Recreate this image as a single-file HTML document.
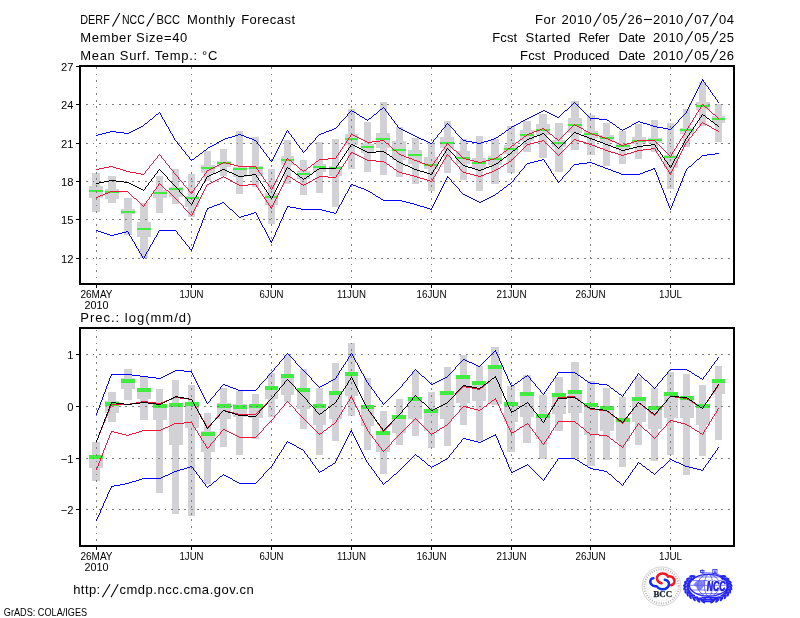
<!DOCTYPE html>
<html><head><meta charset="utf-8"><title>DERF/NCC/BCC Monthly Forecast</title>
<style>
html,body{margin:0;padding:0;background:#fff;}
body{width:800px;height:618px;overflow:hidden;font-family:"Liberation Sans",sans-serif;}
svg{display:block;will-change:transform;}
</style></head><body>
<svg width="800" height="618" viewBox="0 0 800 618" shape-rendering="crispEdges" font-family="'Liberation Sans', sans-serif" fill="#000">
<rect width="800" height="618" fill="#fff"/>
<g fill="#d2d2d6">
<rect x="92" y="173" width="8" height="39"/>
<rect x="89" y="186" width="14" height="12"/>
<rect x="108" y="176" width="8" height="27"/>
<rect x="105" y="189" width="14" height="10"/>
<rect x="124" y="198" width="8" height="37"/>
<rect x="121" y="209" width="14" height="5"/>
<rect x="140" y="203" width="8" height="55"/>
<rect x="137" y="222" width="14" height="15"/>
<rect x="156" y="176" width="7" height="37"/>
<rect x="153" y="190" width="14" height="8"/>
<rect x="172" y="169" width="7" height="35"/>
<rect x="169" y="187" width="14" height="10"/>
<rect x="188" y="174" width="7" height="43"/>
<rect x="185" y="196" width="14" height="11"/>
<rect x="204" y="151" width="7" height="30"/>
<rect x="201" y="165" width="14" height="8"/>
<rect x="220" y="149" width="7" height="27"/>
<rect x="217" y="161" width="14" height="6"/>
<rect x="236" y="131" width="7" height="63"/>
<rect x="233" y="167" width="14" height="10"/>
<rect x="252" y="137" width="7" height="50"/>
<rect x="249" y="166" width="14" height="10"/>
<rect x="268" y="169" width="7" height="55"/>
<rect x="265" y="193" width="13" height="12"/>
<rect x="284" y="140" width="7" height="44"/>
<rect x="281" y="156" width="13" height="9"/>
<rect x="300" y="160" width="7" height="35"/>
<rect x="297" y="171" width="13" height="8"/>
<rect x="316" y="142" width="7" height="51"/>
<rect x="313" y="164" width="13" height="8"/>
<rect x="332" y="139" width="7" height="68"/>
<rect x="329" y="166" width="13" height="10"/>
<rect x="348" y="109" width="7" height="60"/>
<rect x="345" y="134" width="13" height="11"/>
<rect x="364" y="122" width="7" height="50"/>
<rect x="361" y="144" width="13" height="9"/>
<rect x="380" y="102" width="7" height="73"/>
<rect x="376" y="133" width="14" height="15"/>
<rect x="396" y="127" width="7" height="50"/>
<rect x="392" y="141" width="14" height="19"/>
<rect x="412" y="138" width="7" height="46"/>
<rect x="408" y="150" width="14" height="14"/>
<rect x="428" y="143" width="7" height="48"/>
<rect x="424" y="157" width="14" height="12"/>
<rect x="444" y="121" width="7" height="52"/>
<rect x="440" y="137" width="14" height="11"/>
<rect x="460" y="139" width="7" height="41"/>
<rect x="456" y="151" width="14" height="13"/>
<rect x="476" y="136" width="7" height="55"/>
<rect x="472" y="158" width="14" height="10"/>
<rect x="491" y="139" width="8" height="45"/>
<rect x="488" y="156" width="14" height="9"/>
<rect x="507" y="126" width="8" height="47"/>
<rect x="504" y="145" width="14" height="9"/>
<rect x="523" y="121" width="8" height="31"/>
<rect x="520" y="130" width="14" height="11"/>
<rect x="539" y="114" width="8" height="44"/>
<rect x="536" y="124" width="14" height="11"/>
<rect x="555" y="123" width="8" height="49"/>
<rect x="552" y="140" width="14" height="7"/>
<rect x="571" y="101" width="8" height="49"/>
<rect x="568" y="118" width="14" height="15"/>
<rect x="587" y="115" width="8" height="40"/>
<rect x="584" y="131" width="14" height="7"/>
<rect x="603" y="123" width="7" height="43"/>
<rect x="600" y="135" width="14" height="7"/>
<rect x="619" y="131" width="7" height="33"/>
<rect x="616" y="143" width="14" height="7"/>
<rect x="635" y="124" width="7" height="35"/>
<rect x="632" y="137" width="14" height="7"/>
<rect x="651" y="120" width="7" height="32"/>
<rect x="648" y="138" width="14" height="5"/>
<rect x="667" y="123" width="7" height="66"/>
<rect x="664" y="155" width="14" height="13"/>
<rect x="683" y="109" width="7" height="38"/>
<rect x="680" y="128" width="14" height="6"/>
<rect x="699" y="82" width="7" height="44"/>
<rect x="696" y="102" width="14" height="8"/>
<rect x="715" y="104" width="7" height="38"/>
<rect x="712" y="116" width="13" height="7"/>
</g>
<g fill="#40ec40">
<rect x="89" y="190" width="14" height="2"/>
<rect x="105" y="191" width="14" height="2"/>
<rect x="121" y="211" width="14" height="2"/>
<rect x="137" y="228" width="14" height="2"/>
<rect x="153" y="192" width="14" height="2"/>
<rect x="169" y="188" width="14" height="2"/>
<rect x="185" y="197" width="14" height="2"/>
<rect x="201" y="167" width="14" height="2"/>
<rect x="217" y="162" width="14" height="2"/>
<rect x="233" y="168" width="14" height="2"/>
<rect x="249" y="167" width="14" height="2"/>
<rect x="265" y="196" width="13" height="2"/>
<rect x="281" y="159" width="13" height="2"/>
<rect x="297" y="173" width="13" height="2"/>
<rect x="313" y="166" width="13" height="2"/>
<rect x="329" y="167" width="13" height="2"/>
<rect x="345" y="138" width="13" height="2"/>
<rect x="361" y="146" width="13" height="2"/>
<rect x="376" y="138" width="14" height="2"/>
<rect x="392" y="149" width="14" height="2"/>
<rect x="408" y="154" width="14" height="2"/>
<rect x="424" y="164" width="14" height="2"/>
<rect x="440" y="142" width="14" height="2"/>
<rect x="456" y="157" width="14" height="2"/>
<rect x="472" y="162" width="14" height="2"/>
<rect x="488" y="158" width="14" height="2"/>
<rect x="504" y="148" width="14" height="2"/>
<rect x="520" y="134" width="14" height="2"/>
<rect x="536" y="129" width="14" height="2"/>
<rect x="552" y="142" width="14" height="2"/>
<rect x="568" y="124" width="14" height="2"/>
<rect x="584" y="133" width="14" height="2"/>
<rect x="600" y="137" width="14" height="2"/>
<rect x="616" y="145" width="14" height="2"/>
<rect x="632" y="140" width="14" height="2"/>
<rect x="648" y="139" width="14" height="2"/>
<rect x="664" y="156" width="14" height="2"/>
<rect x="680" y="129" width="14" height="2"/>
<rect x="696" y="105" width="14" height="2"/>
<rect x="712" y="118" width="13" height="2"/>
</g>
<g stroke="#7f7f7f" stroke-width="1" stroke-dasharray="1.8 4.75" fill="none">
<line x1="96.5" y1="67" x2="96.5" y2="283"/>
<line x1="191.5" y1="67" x2="191.5" y2="283"/>
<line x1="271.5" y1="67" x2="271.5" y2="283"/>
<line x1="351.5" y1="67" x2="351.5" y2="283"/>
<line x1="431.5" y1="67" x2="431.5" y2="283"/>
<line x1="511.5" y1="67" x2="511.5" y2="283"/>
<line x1="590.5" y1="67" x2="590.5" y2="283"/>
<line x1="670.5" y1="67" x2="670.5" y2="283"/>
<line x1="86" y1="66.5" x2="733" y2="66.5"/>
<line x1="86" y1="104.5" x2="733" y2="104.5"/>
<line x1="86" y1="143.5" x2="733" y2="143.5"/>
<line x1="86" y1="181.5" x2="733" y2="181.5"/>
<line x1="86" y1="219.5" x2="733" y2="219.5"/>
<line x1="86" y1="258.5" x2="733" y2="258.5"/>
</g>
<path d="M96 135.5h2M98 134.5h4M102 133.5h4M106 132.5h4M110 131.5h2M112 131.5h4M116 132.5h8M124 133.5h4M128 133.5h1M129 132.5h2M131 131.5h2M133 130.5h2M135 129.5h2M137 128.5h2M139 127.5h2M141 126.5h2M143 125.5h1M144 124.5h1M145 123.5h2M147 122.5h1M148 121.5h1M149 120.5h1M150 119.5h2M152 118.5h1M153 117.5h1M154 116.5h1M155 115.5h1M156 114.5h2M158 113.5h1M159 112.5h1M160.5 113v2M161.5 115v2M162.5 117v2M163.5 119v1M164.5 120v2M165.5 122v2M166.5 124v2M167.5 126v1M168.5 127v2M169.5 129v2M170.5 131v2M171.5 133v1M172.5 134v2M173.5 136v2M174.5 138v2M175.5 140v1M176.5 141v1M177.5 142v2M178.5 144v1M179.5 145v1M180.5 146v1M181.5 147v2M182.5 149v1M183.5 150v1M184.5 151v1M185.5 152v2M186.5 154v1M187.5 155v1M188.5 156v1M189.5 157v2M190.5 159v1M191.5 160v1M192 159.5h2M194 158.5h1M195 157.5h1M196 156.5h2M198 155.5h1M199 154.5h1M200 153.5h2M202 152.5h1M203 151.5h1M204 150.5h2M206 149.5h1M207 148.5h1M208 147.5h2M210 146.5h2M212 145.5h2M214 144.5h2M216 143.5h1M217 142.5h2M219 141.5h2M221 140.5h2M223 139.5h1M224 139.5h1M225 138.5h3M228 137.5h4M232 136.5h3M235 135.5h3M238 134.5h2M240 134.5h1M241 135.5h3M244 136.5h2M246 137.5h3M249 138.5h3M252 139.5h2M254 140.5h2M256.5 141v1M257.5 142v2M258.5 144v1M259.5 145v1M260.5 146v2M261.5 148v1M262.5 149v1M263.5 150v2M264.5 152v1M265.5 153v1M266.5 154v2M267.5 156v1M268.5 157v1M269.5 158v2M270.5 160v1M271.5 161v1M272.5 159v2M273.5 157v2M274.5 155v2M275.5 153v2M276.5 151v2M277.5 149v2M278.5 147v2M279.5 145v2M280.5 143v2M281.5 141v2M282.5 139v2M283.5 137v2M284.5 135v2M285.5 133v2M286.5 131v2M287.5 130v1M288.5 131v2M289.5 133v1M290.5 134v1M291.5 135v2M292.5 137v1M293.5 138v1M294.5 139v2M295.5 141v1M296.5 142v2M297.5 144v1M298.5 145v1M299.5 146v2M300.5 148v1M301.5 149v1M302.5 150v2M303.5 152v1M304.5 151v1M305.5 150v1M306.5 149v1M307.5 147v2M308.5 146v1M309.5 145v1M310.5 144v1M311.5 143v1M312.5 142v1M313.5 141v1M314.5 140v1M315.5 138v2M316.5 137v1M317.5 136v1M318.5 135v1M319.5 134v1M320 134.5h1M321 133.5h3M324 132.5h2M326 131.5h3M329 130.5h3M332 129.5h2M334 128.5h2M336.5 127v1M337.5 126v1M338.5 125v1M339.5 123v2M340.5 122v1M341.5 121v1M342.5 120v1M343.5 119v1M344.5 118v1M345.5 117v1M346.5 116v1M347.5 114v2M348.5 113v1M349.5 112v1M350.5 111v1M351.5 110v1M352 111.5h2M354 112.5h2M356 113.5h1M357 114.5h2M359 115.5h1M360 116.5h2M362 117.5h2M364 118.5h1M365 119.5h2M367 120.5h1M368 119.5h1M369 118.5h2M371 117.5h1M372 116.5h1M373 115.5h1M374 114.5h2M376 113.5h1M377 112.5h1M378 111.5h1M379 110.5h1M380 109.5h2M382 108.5h1M383 107.5h1M384.5 108v1M385.5 109v2M386.5 111v1M387.5 112v1M388.5 113v2M389.5 115v1M390.5 116v1M391.5 117v2M392.5 119v1M393.5 120v1M394.5 121v2M395.5 123v1M396.5 124v1M397.5 125v2M398.5 127v1M399.5 128v1M400 128.5h1M401 129.5h2M403 130.5h2M405 131.5h2M407 132.5h2M409 133.5h2M411 134.5h2M413 135.5h2M415 136.5h1M416 136.5h1M417 137.5h2M419 138.5h2M421 139.5h3M424 140.5h2M426 141.5h2M428 142.5h2M430 143.5h2M432.5 142v1M433.5 140v2M434.5 139v1M435.5 138v1M436.5 137v1M437.5 135v2M438.5 134v1M439.5 133v1M440.5 132v1M441.5 130v2M442.5 129v1M443.5 128v1M444.5 127v1M445.5 125v2M446.5 124v1M447.5 123v1M448.5 124v1M449.5 125v1M450.5 126v1M451.5 127v1M452.5 128v1M453.5 129v1M454.5 130v1M455.5 131v2M456.5 133v1M457.5 134v1M458.5 135v1M459.5 136v1M460.5 137v1M461.5 138v1M462.5 139v1M463.5 140v1M464 140.5h2M466 141.5h6M472 142.5h5M477 143.5h3M480 143.5h1M481 142.5h3M484 141.5h4M488 140.5h3M491 139.5h3M494 138.5h2M496 137.5h2M498 136.5h1M499 135.5h2M501 134.5h1M502 133.5h2M504 132.5h1M505 131.5h1M506 130.5h2M508 129.5h1M509 128.5h2M511 127.5h1M512 126.5h2M514 125.5h2M516 124.5h2M518 123.5h2M520 122.5h1M521 121.5h2M523 120.5h2M525 119.5h2M527 118.5h1M528 118.5h1M529 117.5h2M531 116.5h2M533 115.5h2M535 114.5h2M537 113.5h2M539 112.5h2M541 111.5h2M543 110.5h1M544 110.5h1M545 111.5h2M547 112.5h2M549 113.5h2M551 114.5h2M553 115.5h2M555 116.5h2M557 117.5h2M559 116.5h1M560 115.5h1M561 114.5h1M562 113.5h1M563 112.5h1M564 111.5h1M565 110.5h2M567 109.5h1M568 108.5h1M569 107.5h1M570 106.5h1M571 105.5h1M572 104.5h1M573 103.5h1M574 102.5h1M575 103.5h1M576 104.5h1M577 105.5h1M578 106.5h1M579 107.5h1M580 108.5h1M581 109.5h1M582 110.5h1M583 111.5h1M584 112.5h1M585 113.5h1M586 114.5h1M587 115.5h1M588 116.5h1M589 117.5h1M590 118.5h1M591 118.5h8M599 119.5h8M607 120.5h2M609 121.5h1M610 122.5h2M612 123.5h1M613 124.5h2M615 125.5h1M616 126.5h1M617 127.5h2M619 128.5h1M620 129.5h2M622 130.5h1M623 129.5h2M625 128.5h2M627 127.5h2M629 126.5h2M631 125.5h1M632 124.5h2M634 123.5h2M636 122.5h2M638 121.5h1M639 121.5h1M640 122.5h3M643 123.5h4M647 124.5h3M650 125.5h3M653 126.5h2M655 126.5h2M657 127.5h6M663 128.5h5M668 129.5h3M671.5 128v1M672.5 127v1M673.5 126v1M674.5 125v1M675.5 124v1M676.5 123v1M677.5 122v1M678.5 120v2M679.5 119v1M680.5 118v1M681.5 117v1M682.5 116v1M683.5 115v1M684.5 114v1M685.5 113v1M686.5 112v1M686.5 111v1M687.5 109v2M688.5 107v2M689.5 105v2M690.5 103v2M691.5 101v2M692.5 99v2M693.5 97v2M694.5 95v2M695.5 93v2M696.5 91v2M697.5 89v2M698.5 87v2M699.5 85v2M700.5 83v2M701.5 81v2M702.5 79v2M703.5 80v2M704.5 82v1M705.5 83v2M706.5 85v1M707.5 86v1M708.5 87v2M709.5 89v1M710.5 90v2M711.5 92v1M712.5 93v2M713.5 95v1M714.5 96v1M715.5 97v2M716.5 99v1M717.5 100v2M718.5 102v1" fill="none" stroke="#0000ff" stroke-width="1"/>
<path d="M96 230.5h2M98 231.5h3M101 232.5h3M104 233.5h3M107 234.5h3M110 235.5h2M112 235.5h2M114 234.5h4M118 233.5h4M122 232.5h4M126 231.5h2M128.5 232v2M129.5 234v2M130.5 236v1M131.5 237v2M132.5 239v2M133.5 241v1M134.5 242v2M135.5 244v2M136.5 246v2M137.5 248v1M138.5 249v2M139.5 251v2M140.5 253v1M141.5 254v2M142.5 256v2M143.5 258v1M144.5 256v2M145.5 254v2M146.5 252v2M147.5 251v1M148.5 249v2M149.5 247v2M150.5 245v2M151.5 244v1M152.5 242v2M153.5 240v2M154.5 238v2M155.5 237v1M156.5 235v2M157.5 233v2M158.5 231v2M159.5 230v1M160 230.5h16M176.5 231v1M177.5 232v2M178.5 234v1M179.5 235v1M180.5 236v1M181.5 237v2M182.5 239v1M183.5 240v1M184.5 241v1M185.5 242v2M186.5 244v1M187.5 245v1M188.5 246v1M189.5 247v2M190.5 249v1M191.5 250v1M191.5 249v1M192.5 247v2M193.5 244v3M194.5 241v3M195.5 239v2M196.5 236v3M197.5 233v3M198.5 231v2M199.5 228v3M200.5 226v2M201.5 223v3M202.5 220v3M203.5 218v2M204.5 215v3M205.5 212v3M206.5 210v2M207.5 208v2M208 208.5h1M209 207.5h3M212 206.5h2M214 205.5h3M217 204.5h3M220 203.5h2M222 202.5h2M224 203.5h1M225 204.5h1M226 205.5h1M227 206.5h1M228 207.5h1M229 208.5h1M230 209.5h2M232 210.5h1M233 211.5h1M234 212.5h1M235 213.5h1M236 214.5h1M237 215.5h1M238 216.5h1M239 217.5h1M240 217.5h1M241 216.5h3M244 215.5h4M248 214.5h3M251 213.5h3M254 212.5h2M256.5 213v2M257.5 215v2M258.5 217v2M259.5 219v2M260.5 221v2M261.5 223v2M262.5 225v2M263.5 227v1M264.5 228v2M265.5 230v2M266.5 232v2M267.5 234v2M268.5 236v2M269.5 238v2M270.5 240v2M271.5 242v1M271.5 241v1M272.5 239v2M273.5 237v2M274.5 235v2M275.5 232v3M276.5 230v2M277.5 228v2M278.5 226v2M279.5 223v3M280.5 221v2M281.5 219v2M282.5 217v2M283.5 214v3M284.5 212v2M285.5 210v2M286.5 208v2M287.5 206v2M288 206.5h2M290 207.5h6M296 208.5h5M301 209.5h3M304 209.5h16M320 209.5h2M322 210.5h4M326 211.5h4M330 212.5h4M334 213.5h2M336.5 211v2M337.5 209v2M338.5 207v2M339.5 205v2M340.5 204v1M341.5 202v2M342.5 200v2M343.5 198v2M344.5 196v2M345.5 194v2M346.5 193v1M347.5 191v2M348.5 189v2M349.5 187v2M350.5 185v2M351.5 184v1M352 184.5h1M353 185.5h3M356 186.5h2M358 187.5h3M361 188.5h3M364 189.5h2M366 190.5h2M368 191.5h2M370 192.5h2M372 193.5h1M373 194.5h2M375 195.5h1M376 196.5h2M378 197.5h2M380 198.5h1M381 199.5h2M383 200.5h1M384 200.5h16M400 200.5h2M402 201.5h4M406 202.5h4M410 203.5h4M414 204.5h2M416 204.5h1M417 205.5h3M420 206.5h4M424 207.5h3M427 208.5h3M430 209.5h2M431.5 208v1M432.5 206v2M433.5 204v2M434.5 202v2M435.5 200v2M436.5 198v2M437.5 196v2M438.5 194v2M439.5 192v2M440.5 190v2M441.5 188v2M442.5 186v2M443.5 184v2M444.5 182v2M445.5 180v2M446.5 178v2M447.5 176v2M448.5 177v1M449.5 178v1M450.5 179v1M451.5 180v2M452.5 182v1M453.5 183v1M454.5 184v1M455.5 185v1M456.5 186v1M457.5 187v1M458.5 188v1M459.5 189v2M460.5 191v1M461.5 192v1M462.5 193v1M463.5 194v1M464 194.5h1M465 195.5h2M467 196.5h2M469 197.5h2M471 198.5h2M473 199.5h2M475 200.5h2M477 201.5h2M479 202.5h1M480 202.5h1M481 201.5h2M483 200.5h2M485 199.5h2M487 198.5h2M489 197.5h2M491 196.5h2M493 195.5h2M495 194.5h1M496 193.5h2M498 192.5h1M499 191.5h1M500 190.5h2M502 189.5h1M503 188.5h1M504 187.5h2M506 186.5h1M507 185.5h1M508 184.5h2M510 183.5h1M511 182.5h1M512.5 181v1M513.5 180v1M514.5 178v2M515.5 177v1M516.5 176v1M517.5 175v1M518.5 174v1M519.5 172v2M520.5 171v1M521.5 170v1M522.5 169v1M523.5 168v1M524.5 166v2M525.5 165v1M526.5 164v1M527.5 163v1M528 163.5h2M530 162.5h4M534 161.5h4M538 160.5h4M542 159.5h2M544.5 160v2M545.5 162v1M546.5 163v2M547.5 165v1M548.5 166v2M549.5 168v1M550.5 169v2M551.5 171v2M552.5 173v1M553.5 174v2M554.5 176v1M555.5 177v2M556.5 179v1M557.5 180v2M558.5 182v1M559.5 181v1M560.5 180v1M561.5 179v1M562.5 177v2M563.5 176v1M564.5 175v1M565.5 174v1M566.5 173v1M567.5 172v1M568.5 171v1M569.5 170v1M570.5 168v2M571.5 167v1M572.5 166v1M573.5 165v1M574.5 164v1M575 164.5h4M579 163.5h8M587 162.5h4M591 162.5h1M592 163.5h3M595 164.5h2M597 165.5h3M600 166.5h3M603 167.5h2M605 168.5h2M607 168.5h1M608 169.5h3M611 170.5h2M613 171.5h3M616 172.5h3M619 173.5h2M621 174.5h2M623 174.5h16M639 174.5h1M640 173.5h3M643 172.5h2M645 171.5h3M648 170.5h3M651 169.5h2M653 168.5h2M654.5 169v1M655.5 170v2M656.5 172v3M657.5 175v2M658.5 177v3M659.5 180v3M660.5 183v2M661.5 185v3M662.5 188v2M663.5 190v3M664.5 193v2M665.5 195v3M666.5 198v3M667.5 201v2M668.5 203v3M669.5 206v2M670.5 208v2M671.5 206v2M672.5 203v3M673.5 201v2M674.5 198v3M675.5 196v2M676.5 193v3M677.5 191v2M678.5 188v3M679.5 186v2M680.5 183v3M681.5 181v2M682.5 178v3M683.5 176v2M684.5 173v3M685.5 171v2M686.5 169v2M687 168.5h1M688 167.5h1M689 166.5h2M691 165.5h1M692 164.5h1M693 163.5h1M694 162.5h1M695 161.5h1M696 160.5h1M697 159.5h2M699 158.5h1M700 157.5h1M701 156.5h1M702 155.5h1M703 155.5h4M707 154.5h8M715 153.5h4" fill="none" stroke="#0000ff" stroke-width="1"/>
<path d="M96 169.5h3M99 168.5h5M104 167.5h5M109 166.5h3M112 166.5h1M113 167.5h3M116 168.5h4M120 169.5h3M123 170.5h3M126 171.5h2M128 171.5h2M130 172.5h6M136 173.5h5M141 174.5h3M144.5 173v1M145.5 171v2M146.5 170v1M147.5 169v1M148.5 168v1M149.5 166v2M150.5 165v1M151.5 164v1M152.5 163v1M153.5 161v2M154.5 160v1M155.5 159v1M156.5 158v1M157.5 156v2M158.5 155v1M159.5 154v1M160.5 155v1M161.5 156v2M162.5 158v1M163.5 159v1M164.5 160v1M165.5 161v2M166.5 163v1M167.5 164v1M168.5 165v1M169.5 166v2M170.5 168v1M171.5 169v1M172.5 170v1M173.5 171v2M174.5 173v1M175.5 174v1M176.5 175v1M177.5 176v1M178.5 177v2M179.5 179v1M180.5 180v1M181.5 181v1M182.5 182v1M183.5 183v2M184.5 185v1M185.5 186v1M186.5 187v1M187.5 188v1M188.5 189v2M189.5 191v1M190.5 192v1M191.5 193v1M192.5 191v2M193.5 190v1M194.5 188v2M195.5 187v1M196.5 186v1M197.5 184v2M198.5 183v1M199.5 181v2M200.5 180v1M201.5 178v2M202.5 177v1M203.5 176v1M204.5 174v2M205.5 173v1M206.5 171v2M207.5 170v1M208 170.5h1M209 169.5h2M211 168.5h2M213 167.5h2M215 166.5h2M217 165.5h2M219 164.5h2M221 163.5h2M223 162.5h1M224 162.5h2M226 163.5h4M230 164.5h4M234 165.5h4M238 166.5h2M240 166.5h16M256.5 167v2M257.5 169v1M258.5 170v2M259.5 172v1M260.5 173v1M261.5 174v2M262.5 176v1M263.5 177v2M264.5 179v1M265.5 180v2M266.5 182v1M267.5 183v1M268.5 184v2M269.5 186v1M270.5 187v2M271.5 189v1M272.5 187v2M273.5 185v2M274.5 183v2M275.5 181v2M276.5 179v2M277.5 177v2M278.5 175v2M279.5 173v2M280.5 171v2M281.5 169v2M282.5 167v2M283.5 165v2M284.5 163v2M285.5 161v2M286.5 159v2M287.5 158v1M288 159.5h1M289 160.5h2M291 161.5h1M292 162.5h1M293 163.5h1M294 164.5h2M296 165.5h1M297 166.5h1M298 167.5h1M299 168.5h1M300 169.5h2M302 170.5h1M303 171.5h1M304 170.5h2M306 169.5h1M307 168.5h1M308 167.5h2M310 166.5h1M311 165.5h1M312 164.5h2M314 163.5h1M315 162.5h1M316 161.5h2M318 160.5h1M319 159.5h1M320 159.5h8M328 158.5h8M336.5 156v2M337.5 155v1M338.5 153v2M339.5 152v1M340.5 150v2M341.5 149v1M342.5 147v2M343.5 146v1M344.5 144v2M345.5 143v1M346.5 141v2M347.5 140v1M348.5 138v2M349.5 137v1M350.5 135v2M351.5 134v1M352 134.5h1M353 135.5h2M355 136.5h2M357 137.5h2M359 138.5h2M361 139.5h2M363 140.5h2M365 141.5h2M367 142.5h1M368 142.5h4M372 141.5h8M380 140.5h4M384 141.5h1M385 142.5h1M386 143.5h2M388 144.5h1M389 145.5h1M390 146.5h1M391 147.5h1M392 148.5h1M393 149.5h1M394 150.5h2M396 151.5h1M397 152.5h1M398 153.5h1M399 154.5h1M400 154.5h1M401 155.5h3M404 156.5h2M406 157.5h3M409 158.5h3M412 159.5h2M414 160.5h2M416 160.5h1M417 161.5h3M420 162.5h2M422 163.5h3M425 164.5h3M428 165.5h2M430 166.5h2M432.5 164v2M433.5 163v1M434.5 161v2M435.5 160v1M436.5 159v1M437.5 157v2M438.5 156v1M439.5 154v2M440.5 153v1M441.5 151v2M442.5 150v1M443.5 149v1M444.5 147v2M445.5 146v1M446.5 144v2M447.5 143v1M448 144.5h1M449 145.5h1M450 146.5h1M451 147.5h1M452 148.5h1M453 149.5h1M454 150.5h2M456 151.5h1M457 152.5h1M458 153.5h1M459 154.5h1M460 155.5h1M461 156.5h1M462 157.5h1M463 158.5h1M464 158.5h2M466 159.5h4M470 160.5h4M474 161.5h4M478 162.5h2M480 162.5h2M482 161.5h4M486 160.5h4M490 159.5h4M494 158.5h2M496 157.5h2M498 156.5h1M499 155.5h1M500 154.5h2M502 153.5h1M503 152.5h1M504 151.5h2M506 150.5h1M507 149.5h1M508 148.5h2M510 147.5h1M511 146.5h1M512 145.5h2M514 144.5h1M515 143.5h1M516 142.5h2M518 141.5h1M519 140.5h1M520 139.5h2M522 138.5h1M523 137.5h1M524 136.5h2M526 135.5h1M527 134.5h1M528 134.5h1M529 133.5h3M532 132.5h2M534 131.5h3M537 130.5h3M540 129.5h2M542 128.5h2M544 129.5h1M545 130.5h2M547 131.5h1M548 132.5h1M549 133.5h1M550 134.5h2M552 135.5h1M553 136.5h1M554 137.5h1M555 138.5h2M557 139.5h1M558 140.5h1M559 139.5h1M560 138.5h1M561 137.5h1M562 136.5h1M563 135.5h1M564 134.5h1M565 133.5h1M566 132.5h1M567 131.5h1M568 130.5h1M569 129.5h1M570 128.5h1M571 127.5h1M572 126.5h1M573 125.5h1M574 124.5h1M575 125.5h2M577 126.5h2M579 127.5h2M581 128.5h2M583 129.5h1M584 130.5h2M586 131.5h2M588 132.5h2M590 133.5h1M591 133.5h1M592 134.5h3M595 135.5h4M599 136.5h3M602 137.5h3M605 138.5h2M607 138.5h1M608 139.5h2M610 140.5h2M612 141.5h3M615 142.5h2M617 143.5h2M619 144.5h2M621 145.5h2M623 145.5h1M624 144.5h3M627 143.5h4M631 142.5h3M634 141.5h3M637 140.5h2M639 140.5h16M655 141.5h1M656 142.5h1M657 143.5h1M658 144.5h1M659 145.5h1M660 146.5h1M661 147.5h1M662 148.5h1M663 149.5h1M664 150.5h1M665 151.5h1M666 152.5h1M667 153.5h1M668 154.5h1M669 155.5h1M670 156.5h1M671.5 154v2M672.5 152v2M673.5 151v1M674.5 149v2M675.5 148v1M676.5 146v2M677.5 144v2M678.5 143v1M679.5 141v2M680.5 139v2M681.5 138v1M682.5 136v2M683.5 135v1M684.5 133v2M685.5 131v2M686.5 130v1M687.5 128v2M688.5 126v2M689.5 125v1M690.5 123v2M691.5 122v1M692.5 120v2M693.5 118v2M694.5 117v1M695.5 115v2M696.5 113v2M697.5 112v1M698.5 110v2M699.5 109v1M700.5 107v2M701.5 105v2M702.5 104v1M703 105.5h1M704 106.5h1M705 107.5h2M707 108.5h1M708 109.5h1M709 110.5h1M710 111.5h1M711 112.5h1M712 113.5h1M713 114.5h2M715 115.5h1M716 116.5h1M717 117.5h1M718 118.5h1" fill="none" stroke="#f0143c" stroke-width="1"/>
<path d="M96 197.5h2M98 196.5h2M100 195.5h3M103 194.5h2M105 193.5h3M108 192.5h2M110 191.5h2M112 191.5h16M128 192.5h1M129 193.5h1M130 194.5h1M131 195.5h1M132 196.5h1M133 197.5h1M134 198.5h2M136 199.5h1M137 200.5h1M138 201.5h1M139 202.5h1M140 203.5h1M141 204.5h1M142 205.5h1M143 206.5h1M144.5 204v2M145.5 203v1M146.5 201v2M147.5 200v1M148.5 199v1M149.5 197v2M150.5 196v1M151.5 194v2M152.5 193v1M153.5 191v2M154.5 190v1M155.5 189v1M156.5 187v2M157.5 186v1M158.5 184v2M159.5 183v1M160 184.5h1M161 185.5h1M162 186.5h1M163 187.5h1M164 188.5h1M165 189.5h1M166 190.5h2M168 191.5h1M169 192.5h1M170 193.5h1M171 194.5h1M172 195.5h1M173 196.5h1M174 197.5h1M175 198.5h1M176.5 199v1M177.5 200v1M178.5 201v1M179.5 202v1M180.5 203v1M181.5 204v1M182.5 205v1M183.5 206v2M184.5 208v1M185.5 209v1M186.5 210v1M187.5 211v1M188.5 212v1M189.5 213v1M190.5 214v1M191.5 215v1M192.5 213v2M193.5 211v2M194.5 209v2M195.5 207v2M196.5 205v2M197.5 203v2M198.5 201v2M199.5 199v2M200.5 197v2M201.5 195v2M202.5 193v2M203.5 191v2M204.5 189v2M205.5 187v2M206.5 185v2M207.5 184v1M208 184.5h1M209 183.5h2M211 182.5h2M213 181.5h2M215 180.5h2M217 179.5h2M219 178.5h2M221 177.5h2M223 176.5h1M224 177.5h2M226 178.5h2M228 179.5h2M230 180.5h2M232 181.5h1M233 182.5h2M235 183.5h2M237 184.5h2M239 185.5h1M240 185.5h8M248 184.5h8M256.5 185v2M257.5 187v1M258.5 188v2M259.5 190v1M260.5 191v2M261.5 193v1M262.5 194v2M263.5 196v1M264.5 197v2M265.5 199v1M266.5 200v2M267.5 202v1M268.5 203v2M269.5 205v1M270.5 206v2M271.5 208v1M271.5 207v1M272.5 205v2M273.5 203v2M274.5 201v2M275.5 199v2M276.5 197v2M277.5 195v2M278.5 193v2M279.5 191v2M280.5 189v2M281.5 187v2M282.5 185v2M283.5 183v2M284.5 181v2M285.5 179v2M286.5 177v2M287.5 175v2M288 176.5h2M290 177.5h2M292 178.5h1M293 179.5h2M295 180.5h1M296 181.5h2M298 182.5h2M300 183.5h1M301 184.5h2M303 185.5h1M304 184.5h2M306 183.5h2M308 182.5h2M310 181.5h2M312 180.5h1M313 179.5h2M315 178.5h2M317 177.5h2M319 176.5h1M320 176.5h8M328 177.5h8M336.5 175v2M337.5 174v1M338.5 172v2M339.5 170v2M340.5 169v1M341.5 167v2M342.5 166v1M343.5 164v2M344.5 163v1M345.5 161v2M346.5 160v1M347.5 158v2M348.5 156v2M349.5 155v1M350.5 153v2M351.5 152v1M352 152.5h1M353 153.5h2M355 154.5h2M357 155.5h2M359 156.5h2M361 157.5h2M363 158.5h2M365 159.5h2M367 160.5h1M368 160.5h8M376 161.5h8M384 162.5h2M386 163.5h1M387 164.5h2M389 165.5h1M390 166.5h2M392 167.5h1M393 168.5h1M394 169.5h2M396 170.5h1M397 171.5h2M399 172.5h1M400 172.5h2M402 173.5h4M406 174.5h4M410 175.5h4M414 176.5h2M416 176.5h1M417 177.5h3M420 178.5h4M424 179.5h3M427 180.5h3M430 181.5h2M432.5 179v2M433.5 177v2M434.5 176v1M435.5 174v2M436.5 172v2M437.5 171v1M438.5 169v2M439.5 167v2M440.5 165v2M441.5 164v1M442.5 162v2M443.5 160v2M444.5 159v1M445.5 157v2M446.5 155v2M447.5 154v1M448.5 155v1M449.5 156v1M450.5 157v1M451.5 158v2M452.5 160v1M453.5 161v1M454.5 162v1M455.5 163v1M456.5 164v1M457.5 165v1M458.5 166v1M459.5 167v2M460.5 169v1M461.5 170v1M462.5 171v1M463.5 172v1M464 172.5h2M466 173.5h4M470 174.5h4M474 175.5h4M478 176.5h2M480 176.5h1M481 175.5h3M484 174.5h2M486 173.5h3M489 172.5h3M492 171.5h2M494 170.5h2M496 169.5h2M498 168.5h2M500 167.5h1M501 166.5h2M503 165.5h1M504 164.5h2M506 163.5h2M508 162.5h1M509 161.5h2M511 160.5h1M512 159.5h1M513 158.5h1M514 157.5h1M515 156.5h1M516 155.5h1M517 154.5h1M518 153.5h1M519 152.5h1M520 151.5h1M521 150.5h1M522 149.5h1M523 148.5h1M524 147.5h1M525 146.5h1M526 145.5h1M527 144.5h1M528 144.5h2M530 143.5h4M534 142.5h4M538 141.5h4M542 140.5h2M544 141.5h1M545 142.5h1M546 143.5h1M547 144.5h1M548 145.5h1M549 146.5h1M550 147.5h1M551 148.5h1M552 149.5h1M553 150.5h1M554 151.5h1M555 152.5h1M556 153.5h1M557 154.5h1M558 155.5h1M559 154.5h1M560 153.5h1M561 152.5h1M562 151.5h1M563 150.5h1M564 149.5h1M565 148.5h1M566 147.5h1M567 146.5h1M568 145.5h1M569 144.5h1M570 143.5h1M571 142.5h1M572 141.5h1M573 140.5h1M574 139.5h1M575 139.5h1M576 140.5h3M579 141.5h4M583 142.5h3M586 143.5h3M589 144.5h2M591 144.5h1M592 145.5h3M595 146.5h2M597 147.5h3M600 148.5h3M603 149.5h2M605 150.5h2M607 150.5h1M608 151.5h3M611 152.5h4M615 153.5h3M618 154.5h3M621 155.5h2M623 155.5h1M624 154.5h3M627 153.5h4M631 152.5h3M634 151.5h3M637 150.5h2M639 150.5h4M643 149.5h8M651 148.5h4M655.5 149v2M656.5 151v2M657.5 153v1M658.5 154v2M659.5 156v1M660.5 157v2M661.5 159v2M662.5 161v1M663.5 162v2M664.5 164v2M665.5 166v1M666.5 167v2M667.5 169v1M668.5 170v2M669.5 172v2M670.5 174v1M670.5 173v1M671.5 171v2M672.5 169v2M673.5 167v2M674.5 165v2M675.5 163v2M676.5 161v2M677.5 159v2M678.5 157v2M679.5 155v2M680.5 153v2M681.5 151v2M682.5 149v2M683.5 147v2M684.5 145v2M685.5 143v2M686.5 142v1M687.5 141v1M688.5 139v2M689.5 138v1M690.5 137v1M691.5 136v1M692.5 134v2M693.5 133v1M694.5 132v1M695.5 131v1M696.5 129v2M697.5 128v1M698.5 127v1M699.5 126v1M700.5 124v2M701.5 123v1M702.5 122v1M703 123.5h2M705 124.5h2M707 125.5h2M709 126.5h2M711 127.5h1M712 128.5h2M714 129.5h2M716 130.5h2M718 131.5h1" fill="none" stroke="#f0143c" stroke-width="1"/>
<path d="M96 183.5h3M99 182.5h5M104 181.5h5M109 180.5h3M112 180.5h4M116 181.5h8M124 182.5h4M128 182.5h1M129 183.5h2M131 184.5h2M133 185.5h2M135 186.5h2M137 187.5h2M139 188.5h2M141 189.5h2M143 190.5h1M144.5 189v1M145.5 187v2M146.5 186v1M147.5 185v1M148.5 183v2M149.5 182v1M150.5 181v1M151.5 179v2M152.5 178v1M153.5 177v1M154.5 175v2M155.5 174v1M156.5 173v1M157.5 171v2M158.5 170v1M159.5 169v1M160.5 170v1M161.5 171v1M162.5 172v1M163.5 173v1M164.5 174v1M165.5 175v1M166.5 176v1M167.5 177v2M168.5 179v1M169.5 180v1M170.5 181v1M171.5 182v1M172.5 183v1M173.5 184v1M174.5 185v1M175.5 186v1M176.5 187v1M177.5 188v1M178.5 189v1M179.5 190v2M180.5 192v1M181.5 193v1M182.5 194v1M183.5 195v1M184.5 196v1M185.5 197v1M186.5 198v1M187.5 199v2M188.5 201v1M189.5 202v1M190.5 203v1M191.5 204v1M192.5 202v2M193.5 200v2M194.5 198v2M195.5 197v1M196.5 195v2M197.5 193v2M198.5 191v2M199.5 190v1M200.5 188v2M201.5 186v2M202.5 184v2M203.5 183v1M204.5 181v2M205.5 179v2M206.5 177v2M207.5 176v1M208 176.5h1M209 175.5h2M211 174.5h2M213 173.5h3M216 172.5h2M218 171.5h2M220 170.5h2M222 169.5h2M224 169.5h1M225 170.5h2M227 171.5h2M229 172.5h3M232 173.5h2M234 174.5h2M236 175.5h2M238 176.5h2M240 176.5h4M244 175.5h8M252 174.5h4M256.5 175v2M257.5 177v1M258.5 178v2M259.5 180v1M260.5 181v2M261.5 183v1M262.5 184v2M263.5 186v1M264.5 187v2M265.5 189v1M266.5 190v2M267.5 192v1M268.5 193v2M269.5 195v1M270.5 196v2M271.5 198v1M272.5 196v2M273.5 194v2M274.5 192v2M275.5 190v2M276.5 188v2M277.5 186v2M278.5 184v2M279.5 182v2M280.5 180v2M281.5 178v2M282.5 176v2M283.5 174v2M284.5 172v2M285.5 170v2M286.5 168v2M287.5 167v1M288 168.5h2M290 169.5h1M291 170.5h1M292 171.5h2M294 172.5h1M295 173.5h1M296 174.5h2M298 175.5h1M299 176.5h1M300 177.5h2M302 178.5h1M303 179.5h1M304 178.5h2M306 177.5h1M307 176.5h2M309 175.5h1M310 174.5h2M312 173.5h1M313 172.5h1M314 171.5h2M316 170.5h1M317 169.5h2M319 168.5h1M320 168.5h16M336.5 166v2M337.5 165v1M338.5 163v2M339.5 162v1M340.5 160v2M341.5 159v1M342.5 157v2M343.5 156v1M344.5 154v2M345.5 153v1M346.5 151v2M347.5 150v1M348.5 148v2M349.5 147v1M350.5 145v2M351.5 144v1M352 144.5h1M353 145.5h2M355 146.5h2M357 147.5h2M359 148.5h2M361 149.5h2M363 150.5h2M365 151.5h2M367 152.5h1M368 152.5h8M376 151.5h8M384 152.5h2M386 153.5h1M387 154.5h2M389 155.5h1M390 156.5h2M392 157.5h1M393 158.5h1M394 159.5h2M396 160.5h1M397 161.5h2M399 162.5h1M400 162.5h1M401 163.5h2M403 164.5h2M405 165.5h3M408 166.5h2M410 167.5h2M412 168.5h2M414 169.5h2M416 169.5h1M417 170.5h3M420 171.5h4M424 172.5h3M427 173.5h3M430 174.5h2M432.5 172v2M433.5 170v2M434.5 169v1M435.5 167v2M436.5 166v1M437.5 164v2M438.5 162v2M439.5 161v1M440.5 159v2M441.5 157v2M442.5 156v1M443.5 154v2M444.5 153v1M445.5 151v2M446.5 149v2M447.5 148v1M448.5 149v1M449.5 150v1M450.5 151v1M451.5 152v1M452.5 153v1M453.5 154v1M454.5 155v1M455.5 156v2M456.5 158v1M457.5 159v1M458.5 160v1M459.5 161v1M460.5 162v1M461.5 163v1M462.5 164v1M463.5 165v1M464 165.5h1M465 166.5h3M468 167.5h4M472 168.5h3M475 169.5h3M478 170.5h2M480 170.5h1M481 169.5h3M484 168.5h2M486 167.5h3M489 166.5h3M492 165.5h2M494 164.5h2M496 163.5h2M498 162.5h1M499 161.5h1M500 160.5h2M502 159.5h1M503 158.5h1M504 157.5h2M506 156.5h1M507 155.5h1M508 154.5h2M510 153.5h1M511 152.5h1M512 151.5h1M513 150.5h2M515 149.5h1M516 148.5h1M517 147.5h1M518 146.5h2M520 145.5h1M521 144.5h1M522 143.5h1M523 142.5h1M524 141.5h2M526 140.5h1M527 139.5h1M528 139.5h1M529 138.5h3M532 137.5h2M534 136.5h3M537 135.5h3M540 134.5h2M542 133.5h2M544 134.5h1M545 135.5h1M546 136.5h1M547 137.5h1M548 138.5h1M549 139.5h1M550 140.5h1M551 141.5h1M552 142.5h1M553 143.5h1M554 144.5h1M555 145.5h1M556 146.5h1M557 147.5h1M558 148.5h1M559 147.5h1M560 146.5h1M561 145.5h1M562 144.5h1M563 143.5h1M564 142.5h1M565 141.5h1M566 140.5h1M567 139.5h1M568 138.5h1M569 137.5h1M570 136.5h1M571 135.5h1M572 134.5h1M573 133.5h1M574 132.5h1M575 132.5h1M576 133.5h3M579 134.5h2M581 135.5h3M584 136.5h3M587 137.5h2M589 138.5h2M591 138.5h1M592 139.5h3M595 140.5h2M597 141.5h3M600 142.5h3M603 143.5h2M605 144.5h2M607 144.5h1M608 145.5h3M611 146.5h2M613 147.5h3M616 148.5h3M619 149.5h2M621 150.5h2M623 150.5h2M625 149.5h4M629 148.5h4M633 147.5h4M637 146.5h2M639 146.5h4M643 145.5h8M651 144.5h4M655.5 145v2M656.5 147v1M657.5 148v2M658.5 150v1M659.5 151v1M660.5 152v2M661.5 154v1M662.5 155v2M663.5 157v1M664.5 158v2M665.5 160v1M666.5 161v1M667.5 162v2M668.5 164v1M669.5 165v2M670.5 167v1M671.5 165v2M672.5 163v2M673.5 161v2M674.5 159v2M675.5 158v1M676.5 156v2M677.5 154v2M678.5 152v2M679.5 150v2M680.5 148v2M681.5 147v1M682.5 145v2M683.5 143v2M684.5 141v2M685.5 139v2M686.5 138v1M687.5 136v2M688.5 135v1M689.5 133v2M690.5 132v1M691.5 130v2M692.5 129v1M693.5 127v2M694.5 126v1M695.5 124v2M696.5 123v1M697.5 121v2M698.5 120v1M699.5 118v2M700.5 117v1M701.5 115v2M702.5 114v1M703 115.5h2M705 116.5h1M706 117.5h1M707 118.5h2M709 119.5h1M710 120.5h1M711 121.5h2M713 122.5h1M714 123.5h1M715 124.5h2M717 125.5h1M718 126.5h1" fill="none" stroke="#000" stroke-width="1"/>
<rect x="80" y="66" width="654" height="218" fill="none" stroke="#000" stroke-width="2"/>
<g stroke="#000" stroke-width="1">
<line x1="76" y1="66.5" x2="80" y2="66.5"/>
<line x1="76" y1="104.5" x2="80" y2="104.5"/>
<line x1="76" y1="143.5" x2="80" y2="143.5"/>
<line x1="76" y1="181.5" x2="80" y2="181.5"/>
<line x1="76" y1="219.5" x2="80" y2="219.5"/>
<line x1="76" y1="258.5" x2="80" y2="258.5"/>
<line x1="96.5" y1="284" x2="96.5" y2="288"/>
<line x1="191.5" y1="284" x2="191.5" y2="288"/>
<line x1="271.5" y1="284" x2="271.5" y2="288"/>
<line x1="351.5" y1="284" x2="351.5" y2="288"/>
<line x1="431.5" y1="284" x2="431.5" y2="288"/>
<line x1="511.5" y1="284" x2="511.5" y2="288"/>
<line x1="590.5" y1="284" x2="590.5" y2="288"/>
<line x1="670.5" y1="284" x2="670.5" y2="288"/>
</g>
<text x="73.5" y="70.9" text-anchor="end" font-size="11.2">27</text>
<text x="73.5" y="108.9" text-anchor="end" font-size="11.2">24</text>
<text x="73.5" y="147.9" text-anchor="end" font-size="11.2">21</text>
<text x="73.5" y="185.9" text-anchor="end" font-size="11.2">18</text>
<text x="73.5" y="223.9" text-anchor="end" font-size="11.2">15</text>
<text x="73.5" y="262.9" text-anchor="end" font-size="11.2">12</text>
<text x="96.5" y="298" text-anchor="middle" font-size="10.6" textLength="32" lengthAdjust="spacingAndGlyphs">26MAY</text>
<text x="191.5" y="298" text-anchor="middle" font-size="10.6" textLength="24" lengthAdjust="spacingAndGlyphs">1JUN</text>
<text x="271.5" y="298" text-anchor="middle" font-size="10.6" textLength="24" lengthAdjust="spacingAndGlyphs">6JUN</text>
<text x="351.5" y="298" text-anchor="middle" font-size="10.6" textLength="29" lengthAdjust="spacingAndGlyphs">11JUN</text>
<text x="431.5" y="298" text-anchor="middle" font-size="10.6" textLength="30" lengthAdjust="spacingAndGlyphs">16JUN</text>
<text x="511.5" y="298" text-anchor="middle" font-size="10.6" textLength="30" lengthAdjust="spacingAndGlyphs">21JUN</text>
<text x="590.5" y="298" text-anchor="middle" font-size="10.6" textLength="30" lengthAdjust="spacingAndGlyphs">26JUN</text>
<text x="670.5" y="298" text-anchor="middle" font-size="10.6" textLength="23" lengthAdjust="spacingAndGlyphs">1JUL</text>
<text x="96.5" y="309" text-anchor="middle" font-size="10.6" textLength="24" lengthAdjust="spacingAndGlyphs">2010</text>
<g fill="#d2d2d6">
<rect x="92" y="442" width="8" height="39"/>
<rect x="89" y="455" width="14" height="13"/>
<rect x="108" y="392" width="8" height="30"/>
<rect x="105" y="401" width="14" height="12"/>
<rect x="124" y="369" width="8" height="31"/>
<rect x="121" y="378" width="14" height="11"/>
<rect x="140" y="377" width="8" height="43"/>
<rect x="137" y="388" width="14" height="11"/>
<rect x="156" y="389" width="7" height="104"/>
<rect x="153" y="404" width="14" height="16"/>
<rect x="172" y="380" width="7" height="134"/>
<rect x="169" y="403" width="14" height="42"/>
<rect x="188" y="385" width="7" height="131"/>
<rect x="185" y="402" width="14" height="26"/>
<rect x="204" y="413" width="7" height="71"/>
<rect x="201" y="431" width="14" height="21"/>
<rect x="220" y="388" width="7" height="59"/>
<rect x="217" y="403" width="14" height="16"/>
<rect x="236" y="391" width="7" height="64"/>
<rect x="233" y="404" width="14" height="13"/>
<rect x="252" y="394" width="7" height="45"/>
<rect x="249" y="404" width="14" height="14"/>
<rect x="268" y="373" width="7" height="44"/>
<rect x="265" y="386" width="13" height="13"/>
<rect x="284" y="355" width="7" height="47"/>
<rect x="281" y="374" width="13" height="21"/>
<rect x="300" y="369" width="7" height="60"/>
<rect x="297" y="388" width="13" height="21"/>
<rect x="316" y="388" width="7" height="67"/>
<rect x="313" y="404" width="13" height="21"/>
<rect x="332" y="363" width="7" height="78"/>
<rect x="329" y="391" width="13" height="28"/>
<rect x="348" y="343" width="7" height="73"/>
<rect x="345" y="372" width="13" height="24"/>
<rect x="364" y="378" width="7" height="72"/>
<rect x="361" y="405" width="13" height="21"/>
<rect x="380" y="411" width="7" height="63"/>
<rect x="376" y="431" width="14" height="21"/>
<rect x="396" y="399" width="7" height="46"/>
<rect x="392" y="415" width="14" height="18"/>
<rect x="412" y="371" width="7" height="65"/>
<rect x="408" y="397" width="14" height="22"/>
<rect x="428" y="392" width="7" height="56"/>
<rect x="424" y="409" width="14" height="22"/>
<rect x="444" y="367" width="7" height="79"/>
<rect x="440" y="391" width="14" height="28"/>
<rect x="460" y="355" width="7" height="70"/>
<rect x="456" y="375" width="14" height="28"/>
<rect x="476" y="366" width="7" height="75"/>
<rect x="472" y="381" width="14" height="20"/>
<rect x="491" y="347" width="8" height="58"/>
<rect x="488" y="365" width="14" height="39"/>
<rect x="507" y="386" width="8" height="66"/>
<rect x="504" y="402" width="14" height="20"/>
<rect x="523" y="375" width="8" height="68"/>
<rect x="520" y="392" width="14" height="25"/>
<rect x="539" y="395" width="8" height="64"/>
<rect x="536" y="414" width="14" height="25"/>
<rect x="555" y="377" width="8" height="54"/>
<rect x="552" y="393" width="14" height="21"/>
<rect x="571" y="362" width="8" height="96"/>
<rect x="568" y="390" width="14" height="23"/>
<rect x="587" y="381" width="8" height="85"/>
<rect x="584" y="403" width="14" height="32"/>
<rect x="603" y="388" width="7" height="72"/>
<rect x="600" y="406" width="14" height="25"/>
<rect x="619" y="397" width="7" height="70"/>
<rect x="616" y="418" width="14" height="23"/>
<rect x="635" y="377" width="7" height="68"/>
<rect x="632" y="397" width="14" height="25"/>
<rect x="651" y="388" width="7" height="73"/>
<rect x="648" y="406" width="14" height="23"/>
<rect x="667" y="372" width="7" height="83"/>
<rect x="664" y="392" width="14" height="26"/>
<rect x="683" y="374" width="7" height="101"/>
<rect x="680" y="396" width="14" height="22"/>
<rect x="699" y="385" width="7" height="71"/>
<rect x="696" y="404" width="14" height="21"/>
<rect x="715" y="366" width="7" height="74"/>
<rect x="712" y="379" width="13" height="15"/>
</g>
<g fill="#40ec40">
<rect x="89" y="455" width="14" height="4"/>
<rect x="105" y="402" width="14" height="4"/>
<rect x="121" y="379" width="14" height="4"/>
<rect x="137" y="388" width="14" height="4"/>
<rect x="153" y="404" width="14" height="4"/>
<rect x="169" y="403" width="14" height="4"/>
<rect x="185" y="402" width="14" height="4"/>
<rect x="201" y="432" width="14" height="4"/>
<rect x="217" y="404" width="14" height="4"/>
<rect x="233" y="405" width="14" height="4"/>
<rect x="249" y="404" width="14" height="4"/>
<rect x="265" y="386" width="13" height="4"/>
<rect x="281" y="374" width="13" height="4"/>
<rect x="297" y="388" width="13" height="4"/>
<rect x="313" y="404" width="13" height="4"/>
<rect x="329" y="391" width="13" height="4"/>
<rect x="345" y="372" width="13" height="4"/>
<rect x="361" y="405" width="13" height="4"/>
<rect x="376" y="431" width="14" height="4"/>
<rect x="392" y="415" width="14" height="4"/>
<rect x="408" y="397" width="14" height="4"/>
<rect x="424" y="409" width="14" height="4"/>
<rect x="440" y="391" width="14" height="4"/>
<rect x="456" y="375" width="14" height="4"/>
<rect x="472" y="381" width="14" height="4"/>
<rect x="488" y="365" width="14" height="4"/>
<rect x="504" y="402" width="14" height="4"/>
<rect x="520" y="392" width="14" height="4"/>
<rect x="536" y="414" width="14" height="4"/>
<rect x="552" y="393" width="14" height="4"/>
<rect x="568" y="390" width="14" height="4"/>
<rect x="584" y="403" width="14" height="4"/>
<rect x="600" y="406" width="14" height="4"/>
<rect x="616" y="418" width="14" height="4"/>
<rect x="632" y="397" width="14" height="4"/>
<rect x="648" y="406" width="14" height="4"/>
<rect x="664" y="392" width="14" height="4"/>
<rect x="680" y="396" width="14" height="4"/>
<rect x="696" y="404" width="14" height="4"/>
<rect x="712" y="379" width="13" height="4"/>
</g>
<g stroke="#7f7f7f" stroke-width="1" stroke-dasharray="1.8 4.75" fill="none">
<line x1="96.5" y1="329.5" x2="96.5" y2="545"/>
<line x1="191.5" y1="329.5" x2="191.5" y2="545"/>
<line x1="271.5" y1="329.5" x2="271.5" y2="545"/>
<line x1="351.5" y1="329.5" x2="351.5" y2="545"/>
<line x1="431.5" y1="329.5" x2="431.5" y2="545"/>
<line x1="511.5" y1="329.5" x2="511.5" y2="545"/>
<line x1="590.5" y1="329.5" x2="590.5" y2="545"/>
<line x1="670.5" y1="329.5" x2="670.5" y2="545"/>
<line x1="86" y1="354.5" x2="733" y2="354.5"/>
<line x1="86" y1="406.5" x2="733" y2="406.5"/>
<line x1="86" y1="458.5" x2="733" y2="458.5"/>
<line x1="86" y1="509.5" x2="733" y2="509.5"/>
</g>
<path d="M96.5 413v2M97.5 410v3M98.5 408v2M99.5 405v3M100.5 402v3M101.5 400v2M102.5 397v3M103.5 394v3M104.5 392v2M105.5 389v3M106.5 386v3M107.5 384v2M108.5 381v3M109.5 378v3M110.5 376v2M111.5 374v2M112 374.5h16M128 374.5h4M132 375.5h8M140 376.5h4M144 376.5h4M148 377.5h8M156 378.5h4M160 378.5h1M161 377.5h2M163 376.5h2M165 375.5h2M167 374.5h2M169 373.5h2M171 372.5h2M173 371.5h2M175 370.5h1M176 370.5h8M184 371.5h8M191.5 372v1M192.5 373v2M193.5 375v2M194.5 377v2M195.5 379v2M196.5 381v2M197.5 383v2M198.5 385v2M199.5 387v2M200.5 389v2M201.5 391v2M202.5 393v2M203.5 395v2M204.5 397v2M205.5 399v2M206.5 401v2M207.5 403v1M208.5 402v1M209.5 401v1M210.5 399v2M211.5 398v1M212.5 397v1M213.5 396v1M214.5 395v1M215.5 393v2M216.5 392v1M217.5 391v1M218.5 390v1M219.5 389v1M220.5 387v2M221.5 386v1M222.5 385v1M223.5 384v1M224 384.5h1M225 385.5h3M228 386.5h2M230 387.5h3M233 388.5h3M236 389.5h2M238 390.5h2M240 390.5h16M256.5 389v1M257.5 388v1M258.5 387v1M259.5 385v2M260.5 384v1M261.5 383v1M262.5 382v1M263.5 381v1M264.5 380v1M265.5 379v1M266.5 378v1M267.5 376v2M268.5 375v1M269.5 374v1M270.5 373v1M271.5 372v1M272.5 371v1M273.5 370v1M274.5 368v2M275.5 367v1M276.5 366v1M277.5 365v1M278.5 364v1M279.5 362v2M280.5 361v1M281.5 360v1M282.5 359v1M283.5 358v1M284.5 356v2M285.5 355v1M286.5 354v1M287.5 353v1M288.5 354v1M289.5 355v1M290.5 356v1M291.5 357v1M292.5 358v1M293.5 359v1M294.5 360v1M295.5 361v2M296.5 363v1M297.5 364v1M298.5 365v1M299.5 366v1M300.5 367v1M301.5 368v1M302.5 369v1M303.5 370v1M304.5 371v1M305.5 372v1M306.5 373v1M307.5 374v1M308.5 375v1M309.5 376v1M310.5 377v1M311.5 378v2M312.5 380v1M313.5 381v1M314.5 382v1M315.5 383v1M316.5 384v1M317.5 385v1M318.5 386v1M319.5 387v1M320 386.5h2M322 385.5h2M324 384.5h2M326 383.5h2M328 382.5h1M329 381.5h2M331 380.5h2M333 379.5h2M335 378.5h1M336.5 376v2M337.5 375v1M338.5 373v2M339.5 371v2M340.5 370v1M341.5 368v2M342.5 367v1M343.5 365v2M344.5 364v1M345.5 362v2M346.5 361v1M347.5 359v2M348.5 357v2M349.5 356v1M350.5 354v2M351.5 353v1M352.5 354v2M353.5 356v2M354.5 358v2M355.5 360v2M356.5 362v1M357.5 363v2M358.5 365v2M359.5 367v2M360.5 369v2M361.5 371v2M362.5 373v1M363.5 374v2M364.5 376v2M365.5 378v2M366.5 380v2M367.5 382v1M368.5 383v2M369.5 385v1M370.5 386v1M371.5 387v2M372.5 389v1M373.5 390v1M374.5 391v2M375.5 393v1M376.5 394v2M377.5 396v1M378.5 397v1M379.5 398v2M380.5 400v1M381.5 401v1M382.5 402v2M383.5 404v1M384 403.5h1M385 402.5h1M386 401.5h1M387 400.5h1M388 399.5h1M389 398.5h1M390 397.5h1M391 396.5h1M392 395.5h1M393 394.5h1M394 393.5h1M395 392.5h1M396 391.5h1M397 390.5h1M398 389.5h1M399 388.5h1M400.5 387v1M401.5 386v1M402.5 384v2M403.5 383v1M404.5 382v1M405.5 381v1M406.5 380v1M407.5 378v2M408.5 377v1M409.5 376v1M410.5 375v1M411.5 374v1M412.5 372v2M413.5 371v1M414.5 370v1M415.5 369v1M416 370.5h1M417 371.5h1M418 372.5h1M419 373.5h1M420 374.5h1M421 375.5h1M422 376.5h2M424 377.5h1M425 378.5h1M426 379.5h1M427 380.5h1M428 381.5h1M429 382.5h1M430 383.5h1M431 384.5h1M432 384.5h1M433 383.5h2M435 382.5h2M437 381.5h2M439 380.5h2M441 379.5h2M443 378.5h2M445 377.5h2M447 376.5h1M448.5 375v1M449.5 374v1M450.5 373v1M451.5 372v1M452.5 371v1M453.5 370v1M454.5 369v1M455.5 367v2M456.5 366v1M457.5 365v1M458.5 364v1M459.5 363v1M460.5 362v1M461.5 361v1M462.5 360v1M463.5 359v1M464 359.5h1M465 360.5h2M467 361.5h2M469 362.5h3M472 363.5h2M474 364.5h2M476 365.5h2M478 366.5h2M480 365.5h1M481 364.5h1M482 363.5h1M483 362.5h1M484 361.5h1M485 360.5h1M486 359.5h1M487 358.5h1M488 357.5h1M489 356.5h1M490 355.5h1M491 354.5h1M492 353.5h1M493 352.5h1M494 351.5h1M495 350.5h1M495.5 351v1M496.5 352v2M497.5 354v2M498.5 356v2M499.5 358v3M500.5 361v2M501.5 363v2M502.5 365v2M503.5 367v3M504.5 370v2M505.5 372v2M506.5 374v2M507.5 376v3M508.5 379v2M509.5 381v2M510.5 383v2M511.5 385v2M512 385.5h2M514 384.5h1M515 383.5h2M517 382.5h1M518 381.5h2M520 380.5h1M521 379.5h1M522 378.5h2M524 377.5h1M525 376.5h2M527 375.5h1M528.5 376v1M529.5 377v1M530.5 378v2M531.5 380v1M532.5 381v1M533.5 382v1M534.5 383v1M535.5 384v2M536.5 386v1M537.5 387v1M538.5 388v1M539.5 389v1M540.5 390v2M541.5 392v1M542.5 393v1M543.5 394v1M544.5 392v2M545.5 391v1M546.5 389v2M547.5 388v1M548.5 386v2M549.5 385v1M550.5 383v2M551.5 382v1M552.5 381v1M553.5 379v2M554.5 378v1M555.5 376v2M556.5 375v1M557.5 373v2M558.5 372v1M559 372.5h16M575 373.5h2M577 374.5h1M578 375.5h2M580 376.5h1M581 377.5h2M583 378.5h1M584 379.5h1M585 380.5h2M587 381.5h1M588 382.5h2M590 383.5h1M591 383.5h8M599 384.5h8M607 385.5h2M609 386.5h1M610 387.5h1M611 388.5h2M613 389.5h1M614 390.5h1M615 391.5h2M617 392.5h1M618 393.5h1M619 394.5h2M621 395.5h1M622 396.5h1M623.5 394v2M624.5 393v1M625.5 391v2M626.5 390v1M627.5 389v1M628.5 387v2M629.5 386v1M630.5 384v2M631.5 383v1M632.5 381v2M633.5 380v1M634.5 379v1M635.5 377v2M636.5 376v1M637.5 374v2M638.5 373v1M639 374.5h1M640 375.5h1M641 376.5h1M642 377.5h1M643 378.5h1M644 379.5h1M645 380.5h2M647 381.5h1M648 382.5h1M649 383.5h1M650 384.5h1M651 385.5h1M652 386.5h1M653 387.5h1M654 388.5h1M655.5 387v1M656.5 386v1M657.5 384v2M658.5 383v1M659.5 382v1M660.5 381v1M661.5 380v1M662.5 378v2M663.5 377v1M664.5 376v1M665.5 375v1M666.5 374v1M667.5 372v2M668.5 371v1M669.5 370v1M670.5 369v1M671 369.5h16M687 370.5h2M689 371.5h2M691 372.5h1M692 373.5h2M694 374.5h1M695 375.5h2M697 376.5h2M699 377.5h1M700 378.5h2M702 379.5h1M703.5 377v2M704.5 376v1M705.5 375v1M706.5 373v2M707.5 372v1M708.5 371v1M709.5 369v2M710.5 368v1M711.5 366v2M712.5 365v1M713.5 364v1M714.5 362v2M715.5 361v1M716.5 360v1M717.5 358v2M718.5 357v1" fill="none" stroke="#0000ff" stroke-width="1"/>
<path d="M96.5 519v2M97.5 517v2M98.5 515v2M99.5 513v2M100.5 510v3M101.5 508v2M102.5 506v2M103.5 503v3M104.5 501v2M105.5 499v2M106.5 497v2M107.5 494v3M108.5 492v2M109.5 490v2M110.5 488v2M111.5 486v2M112 486.5h2M114 485.5h6M120 484.5h5M125 483.5h3M128 483.5h1M129 482.5h3M132 481.5h4M136 480.5h3M139 479.5h3M142 478.5h2M144 478.5h16M160 478.5h1M161 477.5h2M163 476.5h2M165 475.5h3M168 474.5h2M170 473.5h2M172 472.5h2M174 471.5h2M176 471.5h1M177 470.5h3M180 469.5h4M184 468.5h3M187 467.5h3M190 466.5h2M192.5 467v1M193.5 468v2M194.5 470v1M195.5 471v1M196.5 472v2M197.5 474v1M198.5 475v1M199.5 476v2M200.5 478v1M201.5 479v1M202.5 480v2M203.5 482v1M204.5 483v1M205.5 484v2M206.5 486v1M207.5 487v1M208 486.5h1M209 485.5h2M211 484.5h1M212 483.5h1M213 482.5h1M214 481.5h2M216 480.5h1M217 479.5h1M218 478.5h1M219 477.5h1M220 476.5h2M222 475.5h1M223 474.5h1M224 475.5h2M226 476.5h2M228 477.5h2M230 478.5h2M232 479.5h1M233 480.5h2M235 481.5h2M237 482.5h2M239 483.5h1M240 483.5h16M256.5 482v1M257.5 481v1M258.5 480v1M259.5 479v1M260.5 478v1M261.5 477v1M262.5 476v1M263.5 474v2M264.5 473v1M265.5 472v1M266.5 471v1M267.5 470v1M268.5 469v1M269.5 468v1M270.5 467v1M271.5 466v1M272.5 464v2M273.5 463v1M274.5 461v2M275.5 459v2M276.5 458v1M277.5 456v2M278.5 455v1M279.5 453v2M280.5 452v1M281.5 450v2M282.5 449v1M283.5 447v2M284.5 445v2M285.5 444v1M286.5 442v2M287.5 441v1M288 442.5h2M290 443.5h2M292 444.5h2M294 445.5h2M296 446.5h1M297 447.5h2M299 448.5h2M301 449.5h2M303 450.5h1M304.5 451v2M305.5 453v1M306.5 454v1M307.5 455v2M308.5 457v1M309.5 458v1M310.5 459v2M311.5 461v1M312.5 462v2M313.5 464v1M314.5 465v1M315.5 466v2M316.5 468v1M317.5 469v1M318.5 470v2M319.5 472v1M320 471.5h2M322 470.5h2M324 469.5h1M325 468.5h2M327 467.5h1M328 466.5h2M330 465.5h2M332 464.5h1M333 463.5h2M335 462.5h1M335.5 461v1M336.5 459v2M337.5 457v2M338.5 455v2M339.5 453v2M340.5 451v2M341.5 449v2M342.5 447v2M343.5 445v2M344.5 443v2M345.5 441v2M346.5 439v2M347.5 437v2M348.5 435v2M349.5 433v2M350.5 431v2M351.5 430v1M351.5 431v1M352.5 432v2M353.5 434v2M354.5 436v2M355.5 438v2M356.5 440v2M357.5 442v2M358.5 444v2M359.5 446v2M360.5 448v2M361.5 450v2M362.5 452v2M363.5 454v2M364.5 456v2M365.5 458v2M366.5 460v2M367.5 462v1M368.5 463v2M369.5 465v1M370.5 466v1M371.5 467v2M372.5 469v1M373.5 470v1M374.5 471v2M375.5 473v1M376.5 474v2M377.5 476v1M378.5 477v1M379.5 478v2M380.5 480v1M381.5 481v1M382.5 482v2M383.5 484v1M384 483.5h1M385 482.5h1M386 481.5h2M388 480.5h1M389 479.5h1M390 478.5h1M391 477.5h1M392 476.5h1M393 475.5h1M394 474.5h2M396 473.5h1M397 472.5h1M398 471.5h1M399 470.5h1M400 469.5h1M401 468.5h1M402 467.5h1M403 466.5h1M404 465.5h1M405 464.5h1M406 463.5h1M407 462.5h1M408 461.5h1M409 460.5h1M410 459.5h1M411 458.5h1M412 457.5h1M413 456.5h1M414 455.5h1M415 454.5h1M416 455.5h1M417 456.5h2M419 457.5h1M420 458.5h1M421 459.5h1M422 460.5h2M424 461.5h1M425 462.5h1M426 463.5h1M427 464.5h1M428 465.5h2M430 466.5h1M431 467.5h1M432 466.5h2M434 465.5h2M436 464.5h2M438 463.5h2M440 462.5h1M441 461.5h2M443 460.5h2M445 459.5h2M447 458.5h1M448.5 457v1M449.5 455v2M450.5 454v1M451.5 453v1M452.5 452v1M453.5 450v2M454.5 449v1M455.5 448v1M456.5 447v1M457.5 445v2M458.5 444v1M459.5 443v1M460.5 442v1M461.5 440v2M462.5 439v1M463.5 438v1M464 438.5h2M466 439.5h4M470 440.5h4M474 441.5h4M478 442.5h2M480 442.5h1M481 441.5h2M483 440.5h2M485 439.5h2M487 438.5h2M489 437.5h2M491 436.5h2M493 435.5h2M495 434.5h1M495.5 435v1M496.5 436v2M497.5 438v2M498.5 440v3M499.5 443v2M500.5 445v3M501.5 448v2M502.5 450v2M503.5 452v3M504.5 455v2M505.5 457v2M506.5 459v3M507.5 462v2M508.5 464v3M509.5 467v2M510.5 469v2M511.5 471v2M512 472.5h1M513 471.5h2M515 470.5h2M517 469.5h2M519 468.5h2M521 467.5h2M523 466.5h2M525 465.5h2M527 464.5h1M528 465.5h1M529 466.5h1M530 467.5h1M531 468.5h1M532 469.5h1M533 470.5h1M534 471.5h1M535 472.5h1M536 473.5h1M537 474.5h1M538 475.5h1M539 476.5h1M540 477.5h1M541 478.5h1M542 479.5h1M543 480.5h1M544.5 478v2M545.5 477v1M546.5 475v2M547.5 474v1M548.5 472v2M549.5 471v1M550.5 469v2M551.5 468v1M552.5 467v1M553.5 465v2M554.5 464v1M555.5 462v2M556.5 461v1M557.5 459v2M558.5 458v1M559 458.5h16M575 459.5h2M577 460.5h2M579 461.5h1M580 462.5h2M582 463.5h1M583 464.5h2M585 465.5h2M587 466.5h1M588 467.5h2M590 468.5h1M591 468.5h2M593 469.5h6M599 470.5h5M604 471.5h3M607 472.5h1M608 473.5h1M609 474.5h2M611 475.5h1M612 476.5h1M613 477.5h1M614 478.5h1M615 479.5h1M616 480.5h1M617 481.5h2M619 482.5h1M620 483.5h1M621 484.5h1M622 485.5h1M623.5 483v2M624.5 482v1M625.5 480v2M626.5 479v1M627.5 478v1M628.5 476v2M629.5 475v1M630.5 473v2M631.5 472v1M632.5 470v2M633.5 469v1M634.5 468v1M635.5 466v2M636.5 465v1M637.5 463v2M638.5 462v1M639 463.5h2M641 464.5h1M642 465.5h1M643 466.5h2M645 467.5h1M646 468.5h1M647 469.5h2M649 470.5h1M650 471.5h1M651 472.5h2M653 473.5h1M654 474.5h1M655 473.5h1M656 472.5h1M657 471.5h1M658 470.5h1M659 469.5h1M660 468.5h1M661 467.5h2M663 466.5h1M664 465.5h1M665 464.5h1M666 463.5h1M667 462.5h1M668 461.5h1M669 460.5h1M670 459.5h1M671 459.5h1M672 460.5h2M674 461.5h2M676 462.5h3M679 463.5h2M681 464.5h2M683 465.5h2M685 466.5h2M687 466.5h2M689 467.5h4M693 468.5h4M697 469.5h4M701 470.5h2M703.5 468v2M704.5 467v1M705.5 465v2M706.5 464v1M707.5 463v1M708.5 461v2M709.5 460v1M710.5 458v2M711.5 457v1M712.5 455v2M713.5 454v1M714.5 453v1M715.5 451v2M716.5 450v1M717.5 448v2M718.5 447v1" fill="none" stroke="#0000ff" stroke-width="1"/>
<path d="M96.5 440v2M97.5 438v2M98.5 435v3M99.5 433v2M100.5 430v3M101.5 428v2M102.5 425v3M103.5 423v2M104.5 421v2M105.5 418v3M106.5 416v2M107.5 413v3M108.5 411v2M109.5 408v3M110.5 406v2M111.5 404v2M112 404.5h16M128 404.5h2M130 403.5h6M136 402.5h5M141 401.5h3M144 401.5h4M148 402.5h8M156 403.5h4M160 403.5h1M161 402.5h3M164 401.5h2M166 400.5h3M169 399.5h3M172 398.5h2M174 397.5h2M176 397.5h4M180 398.5h8M188 399.5h4M192.5 400v2M193.5 402v2M194.5 404v2M195.5 406v1M196.5 407v2M197.5 409v2M198.5 411v2M199.5 413v1M200.5 414v2M201.5 416v2M202.5 418v2M203.5 420v1M204.5 421v2M205.5 423v2M206.5 425v2M207.5 427v1M208.5 426v1M209.5 425v1M210.5 424v1M211.5 423v1M212.5 422v1M213.5 421v1M214.5 420v1M215.5 418v2M216.5 417v1M217.5 416v1M218.5 415v1M219.5 414v1M220.5 413v1M221.5 412v1M222.5 411v1M223.5 410v1M224 410.5h2M226 411.5h4M230 412.5h4M234 413.5h4M238 414.5h2M240 414.5h16M256 413.5h1M257 412.5h1M258 411.5h1M259 410.5h1M260 409.5h1M261 408.5h1M262 407.5h1M263 406.5h1M264 405.5h1M265 404.5h1M266 403.5h1M267 402.5h1M268 401.5h1M269 400.5h1M270 399.5h1M271 398.5h1M272.5 397v1M273.5 396v1M274.5 394v2M275.5 393v1M276.5 392v1M277.5 391v1M278.5 390v1M279.5 388v2M280.5 387v1M281.5 386v1M282.5 385v1M283.5 384v1M284.5 382v2M285.5 381v1M286.5 380v1M287.5 379v1M288.5 380v1M289.5 381v1M290.5 382v1M291.5 383v1M292.5 384v1M293.5 385v1M294.5 386v1M295.5 387v2M296.5 389v1M297.5 390v1M298.5 391v1M299.5 392v1M300.5 393v1M301.5 394v1M302.5 395v1M303.5 396v1M304.5 397v1M305.5 398v1M306.5 399v1M307.5 400v2M308.5 402v1M309.5 403v1M310.5 404v1M311.5 405v1M312.5 406v1M313.5 407v1M314.5 408v1M315.5 409v2M316.5 411v1M317.5 412v1M318.5 413v1M319.5 414v1M320 413.5h2M322 412.5h1M323 411.5h1M324 410.5h2M326 409.5h1M327 408.5h1M328 407.5h2M330 406.5h1M331 405.5h1M332 404.5h2M334 403.5h1M335 402.5h1M336.5 400v2M337.5 399v1M338.5 397v2M339.5 395v2M340.5 394v1M341.5 392v2M342.5 391v1M343.5 389v2M344.5 388v1M345.5 386v2M346.5 385v1M347.5 383v2M348.5 381v2M349.5 380v1M350.5 378v2M351.5 377v1M352.5 378v2M353.5 380v2M354.5 382v2M355.5 384v2M356.5 386v2M357.5 388v2M358.5 390v2M359.5 392v2M360.5 394v2M361.5 396v2M362.5 398v2M363.5 400v2M364.5 402v2M365.5 404v2M366.5 406v2M367.5 408v1M368.5 409v2M369.5 411v1M370.5 412v2M371.5 414v1M372.5 415v1M373.5 416v2M374.5 418v1M375.5 419v2M376.5 421v1M377.5 422v2M378.5 424v1M379.5 425v1M380.5 426v2M381.5 428v1M382.5 429v2M383.5 431v1M384.5 430v1M385.5 429v1M386.5 428v1M387.5 427v1M388.5 426v1M389.5 425v1M390.5 424v1M391.5 422v2M392.5 421v1M393.5 420v1M394.5 419v1M395.5 418v1M396.5 417v1M397.5 416v1M398.5 415v1M399.5 414v1M400.5 413v1M401.5 412v1M402.5 410v2M403.5 409v1M404.5 408v1M405.5 407v1M406.5 406v1M407.5 404v2M408.5 403v1M409.5 402v1M410.5 401v1M411.5 400v1M412.5 398v2M413.5 397v1M414.5 396v1M415.5 395v1M416 396.5h1M417 397.5h1M418 398.5h1M419 399.5h1M420 400.5h1M421 401.5h1M422 402.5h2M424 403.5h1M425 404.5h1M426 405.5h1M427 406.5h1M428 407.5h1M429 408.5h1M430 409.5h1M431 410.5h1M432 410.5h1M433 409.5h2M435 408.5h2M437 407.5h2M439 406.5h2M441 405.5h2M443 404.5h2M445 403.5h2M447 402.5h1M448 401.5h1M449 400.5h1M450 399.5h1M451 398.5h1M452 397.5h1M453 396.5h1M454 395.5h1M455 394.5h1M456 393.5h1M457 392.5h1M458 391.5h1M459 390.5h1M460 389.5h1M461 388.5h1M462 387.5h1M463 386.5h1M464 386.5h2M466 387.5h6M472 388.5h5M477 389.5h3M480 388.5h1M481 387.5h2M483 386.5h1M484 385.5h1M485 384.5h1M486 383.5h2M488 382.5h1M489 381.5h1M490 380.5h1M491 379.5h1M492 378.5h2M494 377.5h1M495 376.5h1M495.5 377v1M496.5 378v2M497.5 380v2M498.5 382v2M499.5 384v3M500.5 387v2M501.5 389v2M502.5 391v2M503.5 393v3M504.5 396v2M505.5 398v2M506.5 400v2M507.5 402v3M508.5 405v2M509.5 407v2M510.5 409v2M511.5 411v2M512 411.5h2M514 410.5h2M516 409.5h1M517 408.5h2M519 407.5h1M520 406.5h2M522 405.5h2M524 404.5h1M525 403.5h2M527 402.5h1M528.5 403v1M529.5 404v2M530.5 406v1M531.5 407v1M532.5 408v1M533.5 409v2M534.5 411v1M535.5 412v1M536.5 413v1M537.5 414v2M538.5 416v1M539.5 417v1M540.5 418v1M541.5 419v2M542.5 421v1M543.5 422v1M544.5 420v2M545.5 418v2M546.5 417v1M547.5 415v2M548.5 413v2M549.5 412v1M550.5 410v2M551.5 408v2M552.5 407v1M553.5 405v2M554.5 403v2M555.5 402v1M556.5 400v2M557.5 398v2M558.5 397v1M559 397.5h8M567 396.5h8M575 397.5h1M576 398.5h2M578 399.5h1M579 400.5h1M580 401.5h1M581 402.5h2M583 403.5h1M584 404.5h1M585 405.5h1M586 406.5h1M587 407.5h2M589 408.5h1M590 409.5h1M591 409.5h8M599 410.5h8M607 411.5h1M608 412.5h2M610 413.5h1M611 414.5h1M612 415.5h1M613 416.5h2M615 417.5h1M616 418.5h1M617 419.5h1M618 420.5h1M619 421.5h2M621 422.5h1M622 423.5h1M623.5 422v1M624.5 420v2M625.5 419v1M626.5 418v1M627.5 416v2M628.5 415v1M629.5 414v1M630.5 412v2M631.5 411v1M632.5 410v1M633.5 408v2M634.5 407v1M635.5 406v1M636.5 404v2M637.5 403v1M638.5 402v1M639 403.5h1M640 404.5h2M642 405.5h1M643 406.5h1M644 407.5h1M645 408.5h2M647 409.5h1M648 410.5h1M649 411.5h1M650 412.5h1M651 413.5h2M653 414.5h1M654 415.5h1M655.5 414v1M656.5 413v1M657.5 411v2M658.5 410v1M659.5 409v1M660.5 408v1M661.5 407v1M662.5 405v2M663.5 404v1M664.5 403v1M665.5 402v1M666.5 401v1M667.5 399v2M668.5 398v1M669.5 397v1M670.5 396v1M671 396.5h4M675 397.5h8M683 398.5h4M687 399.5h2M689 400.5h2M691 401.5h1M692 402.5h2M694 403.5h1M695 404.5h2M697 405.5h2M699 406.5h1M700 407.5h2M702 408.5h1M703.5 406v2M704.5 405v1M705.5 403v2M706.5 402v1M707.5 401v1M708.5 399v2M709.5 398v1M710.5 396v2M711.5 395v1M712.5 393v2M713.5 392v1M714.5 391v1M715.5 389v2M716.5 388v1M717.5 386v2M718.5 385v1" fill="none" stroke="#f0143c" stroke-width="1"/>
<path d="M96.5 468v2M97.5 466v2M98.5 463v3M99.5 461v2M100.5 458v3M101.5 456v2M102.5 453v3M103.5 450v3M104.5 448v2M105.5 445v3M106.5 443v2M107.5 440v3M108.5 438v2M109.5 435v3M110.5 433v2M111.5 431v2M112 431.5h2M114 432.5h4M118 433.5h4M122 434.5h4M126 435.5h2M128 435.5h1M129 434.5h3M132 433.5h4M136 432.5h3M139 431.5h3M142 430.5h2M144 430.5h16M160 430.5h1M161 429.5h2M163 428.5h2M165 427.5h3M168 426.5h2M170 425.5h2M172 424.5h2M174 423.5h2M176 423.5h8M184 422.5h8M192.5 423v2M193.5 425v2M194.5 427v1M195.5 428v2M196.5 430v1M197.5 431v2M198.5 433v2M199.5 435v1M200.5 436v2M201.5 438v2M202.5 440v1M203.5 441v2M204.5 443v1M205.5 444v2M206.5 446v2M207.5 448v1M208.5 447v1M209.5 446v1M210.5 444v2M211.5 443v1M212.5 442v1M213.5 441v1M214.5 440v1M215.5 438v2M216.5 437v1M217.5 436v1M218.5 435v1M219.5 434v1M220.5 432v2M221.5 431v1M222.5 430v1M223.5 429v1M224 429.5h1M225 430.5h2M227 431.5h2M229 432.5h2M231 433.5h2M233 434.5h2M235 435.5h2M237 436.5h2M239 437.5h1M240 437.5h16M256.5 436v1M257.5 435v1M258.5 434v1M259.5 433v1M260.5 432v1M261.5 431v1M262.5 430v1M263.5 428v2M264.5 427v1M265.5 426v1M266.5 425v1M267.5 424v1M268.5 423v1M269.5 422v1M270.5 421v1M271.5 420v1M272.5 419v1M273.5 418v1M274.5 416v2M275.5 415v1M276.5 414v1M277.5 413v1M278.5 412v1M279.5 410v2M280.5 409v1M281.5 408v1M282.5 407v1M283.5 406v1M284.5 404v2M285.5 403v1M286.5 402v1M287.5 401v1M288.5 402v1M289.5 403v1M290.5 404v1M291.5 405v1M292.5 406v1M293.5 407v1M294.5 408v1M295.5 409v2M296.5 411v1M297.5 412v1M298.5 413v1M299.5 414v1M300.5 415v1M301.5 416v1M302.5 417v1M303.5 418v1M304 419.5h1M305 420.5h1M306 421.5h1M307 422.5h1M308 423.5h1M309 424.5h1M310 425.5h1M311 426.5h1M312 427.5h1M313 428.5h1M314 429.5h1M315 430.5h1M316 431.5h1M317 432.5h1M318 433.5h1M319 434.5h1M320 433.5h2M322 432.5h1M323 431.5h1M324 430.5h2M326 429.5h1M327 428.5h1M328 427.5h2M330 426.5h1M331 425.5h1M332 424.5h2M334 423.5h1M335 422.5h1M336.5 420v2M337.5 418v2M338.5 417v1M339.5 415v2M340.5 414v1M341.5 412v2M342.5 410v2M343.5 409v1M344.5 407v2M345.5 405v2M346.5 404v1M347.5 402v2M348.5 401v1M349.5 399v2M350.5 397v2M351.5 396v1M351.5 397v1M352.5 398v2M353.5 400v2M354.5 402v2M355.5 404v2M356.5 406v2M357.5 408v2M358.5 410v2M359.5 412v3M360.5 415v2M361.5 417v2M362.5 419v2M363.5 421v2M364.5 423v2M365.5 425v2M366.5 427v2M367.5 429v2M368.5 431v1M369.5 432v2M370.5 434v1M371.5 435v1M372.5 436v2M373.5 438v1M374.5 439v1M375.5 440v2M376.5 442v1M377.5 443v1M378.5 444v2M379.5 446v1M380.5 447v1M381.5 448v2M382.5 450v1M383.5 451v1M384.5 450v1M385.5 449v1M386.5 448v1M387.5 447v1M388.5 446v1M389.5 445v1M390.5 444v1M391.5 442v2M392.5 441v1M393.5 440v1M394.5 439v1M395.5 438v1M396.5 437v1M397.5 436v1M398.5 435v1M399.5 434v1M400 433.5h1M401 432.5h1M402 431.5h1M403 430.5h1M404 429.5h1M405 428.5h1M406 427.5h1M407 426.5h1M408 425.5h1M409 424.5h1M410 423.5h1M411 422.5h1M412 421.5h1M413 420.5h1M414 419.5h1M415 418.5h1M416 419.5h1M417 420.5h1M418 421.5h1M419 422.5h1M420 423.5h1M421 424.5h1M422 425.5h1M423 426.5h1M424 427.5h1M425 428.5h1M426 429.5h1M427 430.5h1M428 431.5h1M429 432.5h1M430 433.5h1M431 434.5h1M432 433.5h2M434 432.5h2M436 431.5h1M437 430.5h2M439 429.5h1M440 428.5h2M442 427.5h2M444 426.5h1M445 425.5h2M447 424.5h1M448.5 423v1M449.5 422v1M450.5 421v1M451.5 419v2M452.5 418v1M453.5 417v1M454.5 416v1M455.5 415v1M456.5 414v1M457.5 413v1M458.5 412v1M459.5 410v2M460.5 409v1M461.5 408v1M462.5 407v1M463.5 406v1M464 406.5h2M466 407.5h4M470 408.5h4M474 409.5h4M478 410.5h2M480 409.5h2M482 408.5h1M483 407.5h1M484 406.5h2M486 405.5h1M487 404.5h1M488 403.5h2M490 402.5h1M491 401.5h1M492 400.5h2M494 399.5h1M495 398.5h1M495.5 399v1M496.5 400v2M497.5 402v2M498.5 404v2M499.5 406v2M500.5 408v3M501.5 411v2M502.5 413v2M503.5 415v2M504.5 417v2M505.5 419v2M506.5 421v3M507.5 424v2M508.5 426v2M509.5 428v2M510.5 430v2M511.5 432v2M512 432.5h2M514 431.5h2M516 430.5h1M517 429.5h2M519 428.5h1M520 427.5h2M522 426.5h2M524 425.5h1M525 424.5h2M527 423.5h1M528.5 424v1M529.5 425v2M530.5 427v1M531.5 428v1M532.5 429v2M533.5 431v1M534.5 432v1M535.5 433v2M536.5 435v1M537.5 436v1M538.5 437v2M539.5 439v1M540.5 440v1M541.5 441v2M542.5 443v1M543.5 444v1M544.5 442v2M545.5 441v1M546.5 439v2M547.5 438v1M548.5 436v2M549.5 435v1M550.5 433v2M551.5 431v2M552.5 430v1M553.5 428v2M554.5 427v1M555.5 425v2M556.5 424v1M557.5 422v2M558.5 421v1M559 421.5h16M575 422.5h1M576 423.5h2M578 424.5h1M579 425.5h1M580 426.5h1M581 427.5h2M583 428.5h1M584 429.5h1M585 430.5h1M586 431.5h1M587 432.5h2M589 433.5h1M590 434.5h1M591 434.5h8M599 435.5h8M607 436.5h2M609 437.5h1M610 438.5h1M611 439.5h2M613 440.5h1M614 441.5h1M615 442.5h2M617 443.5h1M618 444.5h1M619 445.5h2M621 446.5h1M622 447.5h1M623.5 445v2M624.5 444v1M625.5 442v2M626.5 441v1M627.5 439v2M628.5 438v1M629.5 436v2M630.5 435v1M631.5 433v2M632.5 432v1M633.5 430v2M634.5 429v1M635.5 427v2M636.5 426v1M637.5 424v2M638.5 423v1M639 424.5h1M640 425.5h1M641 426.5h1M642 427.5h1M643 428.5h1M644 429.5h1M645 430.5h2M647 431.5h1M648 432.5h1M649 433.5h1M650 434.5h1M651 435.5h1M652 436.5h1M653 437.5h1M654 438.5h1M655.5 437v1M656.5 436v1M657.5 435v1M658.5 433v2M659.5 432v1M660.5 431v1M661.5 430v1M662.5 429v1M663.5 428v1M664.5 427v1M665.5 426v1M666.5 424v2M667.5 423v1M668.5 422v1M669.5 421v1M670.5 420v1M671 420.5h2M673 421.5h4M677 422.5h4M681 423.5h4M685 424.5h2M687 425.5h2M689 426.5h2M691 427.5h1M692 428.5h2M694 429.5h1M695 430.5h2M697 431.5h2M699 432.5h1M700 433.5h2M702 434.5h1M703.5 432v2M704.5 430v2M705.5 429v1M706.5 427v2M707.5 426v1M708.5 424v2M709.5 422v2M710.5 421v1M711.5 419v2M712.5 417v2M713.5 416v1M714.5 414v2M715.5 413v1M716.5 411v2M717.5 409v2M718.5 408v1" fill="none" stroke="#f0143c" stroke-width="1"/>
<path d="M96.5 440v2M97.5 438v2M98.5 435v3M99.5 432v3M100.5 430v2M101.5 427v3M102.5 425v2M103.5 422v3M104.5 419v3M105.5 417v2M106.5 414v3M107.5 412v2M108.5 409v3M109.5 406v3M110.5 404v2M111.5 402v2M112 402.5h4M116 403.5h8M124 404.5h4M128 404.5h4M132 403.5h8M140 402.5h4M144 402.5h4M148 403.5h8M156 404.5h4M160 404.5h1M161 403.5h2M163 402.5h2M165 401.5h2M167 400.5h2M169 399.5h2M171 398.5h2M173 397.5h2M175 396.5h1M176 396.5h2M178 397.5h6M184 398.5h5M189 399.5h3M192.5 400v2M193.5 402v2M194.5 404v2M195.5 406v2M196.5 408v1M197.5 409v2M198.5 411v2M199.5 413v2M200.5 415v2M201.5 417v2M202.5 419v1M203.5 420v2M204.5 422v2M205.5 424v2M206.5 426v2M207.5 428v1M208.5 427v1M209.5 426v1M210.5 425v1M211.5 423v2M212.5 422v1M213.5 421v1M214.5 420v1M215.5 419v1M216.5 418v1M217.5 417v1M218.5 416v1M219.5 414v2M220.5 413v1M221.5 412v1M222.5 411v1M223.5 410v1M224 410.5h1M225 411.5h3M228 412.5h4M232 413.5h3M235 414.5h3M238 415.5h2M240 415.5h8M248 416.5h8M256.5 415v1M257.5 414v1M258.5 413v1M259.5 411v2M260.5 410v1M261.5 409v1M262.5 408v1M263.5 407v1M264.5 406v1M265.5 405v1M266.5 404v1M267.5 402v2M268.5 401v1M269.5 400v1M270.5 399v1M271.5 398v1M272.5 397v1M273.5 396v1M274.5 394v2M275.5 393v1M276.5 392v1M277.5 391v1M278.5 390v1M279.5 388v2M280.5 387v1M281.5 386v1M282.5 385v1M283.5 384v1M284.5 382v2M285.5 381v1M286.5 380v1M287.5 379v1M288.5 380v1M289.5 381v1M290.5 382v1M291.5 383v1M292.5 384v1M293.5 385v1M294.5 386v1M295.5 387v2M296.5 389v1M297.5 390v1M298.5 391v1M299.5 392v1M300.5 393v1M301.5 394v1M302.5 395v1M303.5 396v1M304.5 397v1M305.5 398v1M306.5 399v1M307.5 400v2M308.5 402v1M309.5 403v1M310.5 404v1M311.5 405v1M312.5 406v1M313.5 407v1M314.5 408v1M315.5 409v2M316.5 411v1M317.5 412v1M318.5 413v1M319.5 414v1M320 413.5h2M322 412.5h1M323 411.5h1M324 410.5h2M326 409.5h1M327 408.5h1M328 407.5h2M330 406.5h1M331 405.5h1M332 404.5h2M334 403.5h1M335 402.5h1M336.5 400v2M337.5 399v1M338.5 397v2M339.5 395v2M340.5 394v1M341.5 392v2M342.5 391v1M343.5 389v2M344.5 388v1M345.5 386v2M346.5 385v1M347.5 383v2M348.5 381v2M349.5 380v1M350.5 378v2M351.5 377v1M352.5 378v2M353.5 380v2M354.5 382v2M355.5 384v2M356.5 386v2M357.5 388v2M358.5 390v2M359.5 392v2M360.5 394v2M361.5 396v2M362.5 398v2M363.5 400v2M364.5 402v2M365.5 404v2M366.5 406v2M367.5 408v1M368.5 409v2M369.5 411v1M370.5 412v1M371.5 413v2M372.5 415v1M373.5 416v1M374.5 417v2M375.5 419v1M376.5 420v2M377.5 422v1M378.5 423v1M379.5 424v2M380.5 426v1M381.5 427v1M382.5 428v2M383.5 430v1M384 429.5h1M385 428.5h1M386 427.5h1M387 426.5h1M388 425.5h1M389 424.5h1M390 423.5h1M391 422.5h1M392 421.5h1M393 420.5h1M394 419.5h1M395 418.5h1M396 417.5h1M397 416.5h1M398 415.5h1M399 414.5h1M400.5 413v1M401.5 412v1M402.5 410v2M403.5 409v1M404.5 408v1M405.5 407v1M406.5 406v1M407.5 404v2M408.5 403v1M409.5 402v1M410.5 401v1M411.5 400v1M412.5 398v2M413.5 397v1M414.5 396v1M415.5 395v1M416 396.5h1M417 397.5h1M418 398.5h1M419 399.5h1M420 400.5h1M421 401.5h1M422 402.5h2M424 403.5h1M425 404.5h1M426 405.5h1M427 406.5h1M428 407.5h1M429 408.5h1M430 409.5h1M431 410.5h1M432 410.5h1M433 409.5h2M435 408.5h2M437 407.5h2M439 406.5h2M441 405.5h2M443 404.5h2M445 403.5h2M447 402.5h1M448.5 401v1M449.5 400v1M450.5 399v1M451.5 398v1M452.5 397v1M453.5 396v1M454.5 395v1M455.5 393v2M456.5 392v1M457.5 391v1M458.5 390v1M459.5 389v1M460.5 388v1M461.5 387v1M462.5 386v1M463.5 385v1M464 385.5h2M466 386.5h6M472 387.5h5M477 388.5h3M480 387.5h2M482 386.5h1M483 385.5h1M484 384.5h2M486 383.5h1M487 382.5h1M488 381.5h2M490 380.5h1M491 379.5h1M492 378.5h2M494 377.5h1M495 376.5h1M495.5 377v1M496.5 378v2M497.5 380v2M498.5 382v2M499.5 384v3M500.5 387v2M501.5 389v2M502.5 391v2M503.5 393v3M504.5 396v2M505.5 398v2M506.5 400v2M507.5 402v3M508.5 405v2M509.5 407v2M510.5 409v2M511.5 411v2M512 411.5h2M514 410.5h2M516 409.5h1M517 408.5h2M519 407.5h1M520 406.5h2M522 405.5h2M524 404.5h1M525 403.5h2M527 402.5h1M528.5 403v1M529.5 404v2M530.5 406v1M531.5 407v1M532.5 408v1M533.5 409v2M534.5 411v1M535.5 412v1M536.5 413v1M537.5 414v2M538.5 416v1M539.5 417v1M540.5 418v1M541.5 419v2M542.5 421v1M543.5 422v1M544.5 420v2M545.5 418v2M546.5 417v1M547.5 415v2M548.5 414v1M549.5 412v2M550.5 410v2M551.5 409v1M552.5 407v2M553.5 406v1M554.5 404v2M555.5 402v2M556.5 401v1M557.5 399v2M558.5 398v1M559 398.5h8M567 397.5h8M575 398.5h2M577 399.5h1M578 400.5h2M580 401.5h1M581 402.5h2M583 403.5h1M584 404.5h1M585 405.5h2M587 406.5h1M588 407.5h2M590 408.5h1M591 408.5h4M595 409.5h8M603 410.5h4M607 411.5h2M609 412.5h1M610 413.5h1M611 414.5h2M613 415.5h1M614 416.5h1M615 417.5h2M617 418.5h1M618 419.5h1M619 420.5h2M621 421.5h1M622 422.5h1M623.5 421v1M624.5 419v2M625.5 418v1M626.5 417v1M627.5 416v1M628.5 414v2M629.5 413v1M630.5 412v1M631.5 411v1M632.5 409v2M633.5 408v1M634.5 407v1M635.5 406v1M636.5 404v2M637.5 403v1M638.5 402v1M639 403.5h2M641 404.5h1M642 405.5h1M643 406.5h2M645 407.5h1M646 408.5h1M647 409.5h2M649 410.5h1M650 411.5h1M651 412.5h2M653 413.5h1M654 414.5h1M655.5 413v1M656.5 412v1M657.5 411v1M658.5 409v2M659.5 408v1M660.5 407v1M661.5 406v1M662.5 405v1M663.5 404v1M664.5 403v1M665.5 402v1M666.5 400v2M667.5 399v1M668.5 398v1M669.5 397v1M670.5 396v1M671 396.5h8M679 397.5h8M687 398.5h2M689 399.5h1M690 400.5h2M692 401.5h1M693 402.5h2M695 403.5h1M696 404.5h1M697 405.5h2M699 406.5h1M700 407.5h2M702 408.5h1M703.5 406v2M704.5 405v1M705.5 403v2M706.5 402v1M707.5 400v2M708.5 399v1M709.5 397v2M710.5 396v1M711.5 394v2M712.5 393v1M713.5 391v2M714.5 390v1M715.5 388v2M716.5 387v1M717.5 385v2M718.5 384v1" fill="none" stroke="#000" stroke-width="1"/>
<rect x="80" y="328" width="654" height="218" fill="none" stroke="#000" stroke-width="2"/>
<g stroke="#000" stroke-width="1">
<line x1="76" y1="354.5" x2="80" y2="354.5"/>
<line x1="76" y1="406.5" x2="80" y2="406.5"/>
<line x1="76" y1="458.5" x2="80" y2="458.5"/>
<line x1="76" y1="509.5" x2="80" y2="509.5"/>
<line x1="96.5" y1="546" x2="96.5" y2="550"/>
<line x1="191.5" y1="546" x2="191.5" y2="550"/>
<line x1="271.5" y1="546" x2="271.5" y2="550"/>
<line x1="351.5" y1="546" x2="351.5" y2="550"/>
<line x1="431.5" y1="546" x2="431.5" y2="550"/>
<line x1="511.5" y1="546" x2="511.5" y2="550"/>
<line x1="590.5" y1="546" x2="590.5" y2="550"/>
<line x1="670.5" y1="546" x2="670.5" y2="550"/>
</g>
<text x="73.5" y="358.9" text-anchor="end" font-size="11.2">1</text>
<text x="73.5" y="410.9" text-anchor="end" font-size="11.2">0</text>
<text x="73.5" y="462.9" text-anchor="end" font-size="11.2">−1</text>
<text x="73.5" y="513.9" text-anchor="end" font-size="11.2">−2</text>
<text x="96.5" y="560" text-anchor="middle" font-size="10.6" textLength="32" lengthAdjust="spacingAndGlyphs">26MAY</text>
<text x="191.5" y="560" text-anchor="middle" font-size="10.6" textLength="24" lengthAdjust="spacingAndGlyphs">1JUN</text>
<text x="271.5" y="560" text-anchor="middle" font-size="10.6" textLength="24" lengthAdjust="spacingAndGlyphs">6JUN</text>
<text x="351.5" y="560" text-anchor="middle" font-size="10.6" textLength="29" lengthAdjust="spacingAndGlyphs">11JUN</text>
<text x="431.5" y="560" text-anchor="middle" font-size="10.6" textLength="30" lengthAdjust="spacingAndGlyphs">16JUN</text>
<text x="511.5" y="560" text-anchor="middle" font-size="10.6" textLength="30" lengthAdjust="spacingAndGlyphs">21JUN</text>
<text x="590.5" y="560" text-anchor="middle" font-size="10.6" textLength="30" lengthAdjust="spacingAndGlyphs">26JUN</text>
<text x="670.5" y="560" text-anchor="middle" font-size="10.6" textLength="23" lengthAdjust="spacingAndGlyphs">1JUL</text>
<text x="96.5" y="571" text-anchor="middle" font-size="10.6" textLength="24" lengthAdjust="spacingAndGlyphs">2010</text>
<text x="80.3" y="23.8" font-size="13" textLength="29.5" lengthAdjust="spacingAndGlyphs">DERF</text><path d="M112.5 26.4 L119.8 13.1" stroke="#000" stroke-width="1.1" fill="none" shape-rendering="auto"/><text x="122" y="23.8" font-size="13" textLength="22.8" lengthAdjust="spacingAndGlyphs">NCC</text><path d="M146.8 26.4 L154.1 13.1" stroke="#000" stroke-width="1.1" fill="none" shape-rendering="auto"/><text x="156.5" y="23.8" font-size="13" textLength="23.5" lengthAdjust="spacingAndGlyphs">BCC</text><text x="187" y="23.8" font-size="13" textLength="48.0" lengthAdjust="spacing">Monthly</text><text x="241.2" y="23.8" font-size="13" textLength="53.8" lengthAdjust="spacing">Forecast</text>
<text x="80.3" y="42" font-size="13" text-anchor="start" textLength="107" lengthAdjust="spacing">Member Size=40</text>
<text x="80.3" y="60" font-size="13" text-anchor="start" textLength="137" lengthAdjust="spacing">Mean Surf. Temp.: °C</text>
<text x="535.1" y="23.8" font-size="13" textLength="20.4" lengthAdjust="spacing">For</text>
<text x="561.6" y="23.8" font-size="13" textLength="30.2" lengthAdjust="spacing">2010</text><path d="M593.7 26.4 L601.0 13.1" stroke="#000" stroke-width="1.1" fill="none" shape-rendering="auto"/><text x="602.8" y="23.8" font-size="13" textLength="15.0" lengthAdjust="spacing">05</text><path d="M619.0 26.4 L626.3 13.1" stroke="#000" stroke-width="1.1" fill="none" shape-rendering="auto"/><text x="627.4" y="23.8" font-size="13" textLength="15.2" lengthAdjust="spacing">26</text>
<path d="M644.4 19.5 H651.6" stroke="#000" stroke-width="1" fill="none"/>
<text x="653.1" y="23.8" font-size="13" textLength="30.2" lengthAdjust="spacing">2010</text><path d="M685.2 26.4 L692.5 13.1" stroke="#000" stroke-width="1.1" fill="none" shape-rendering="auto"/><text x="694.3" y="23.8" font-size="13" textLength="15.0" lengthAdjust="spacing">07</text><path d="M710.5 26.4 L717.8 13.1" stroke="#000" stroke-width="1.1" fill="none" shape-rendering="auto"/><text x="718.9" y="23.8" font-size="13" textLength="15.2" lengthAdjust="spacing">04</text>
<text x="492.2" y="42" font-size="13" textLength="25.0" lengthAdjust="spacing">Fcst</text>
<text x="525.5" y="42" font-size="13" textLength="45.0" lengthAdjust="spacing">Started</text>
<text x="578.6" y="42" font-size="13" textLength="30.9" lengthAdjust="spacing">Refer</text>
<text x="618.5" y="42" font-size="13" textLength="27.0" lengthAdjust="spacing">Date</text>
<text x="653.1" y="42" font-size="13" textLength="30.2" lengthAdjust="spacing">2010</text><path d="M685.2 44.6 L692.5 31.3" stroke="#000" stroke-width="1.1" fill="none" shape-rendering="auto"/><text x="694.3" y="42" font-size="13" textLength="15.0" lengthAdjust="spacing">05</text><path d="M710.5 44.6 L717.8 31.3" stroke="#000" stroke-width="1.1" fill="none" shape-rendering="auto"/><text x="718.9" y="42" font-size="13" textLength="15.2" lengthAdjust="spacing">25</text>
<text x="520.1" y="60" font-size="13" textLength="24.9" lengthAdjust="spacing">Fcst</text>
<text x="553.4" y="60" font-size="13" textLength="56.1" lengthAdjust="spacing">Produced</text>
<text x="618.5" y="60" font-size="13" textLength="27.0" lengthAdjust="spacing">Date</text>
<text x="653.1" y="60" font-size="13" textLength="30.2" lengthAdjust="spacing">2010</text><path d="M685.2 62.6 L692.5 49.3" stroke="#000" stroke-width="1.1" fill="none" shape-rendering="auto"/><text x="694.3" y="60" font-size="13" textLength="15.0" lengthAdjust="spacing">05</text><path d="M710.5 62.6 L717.8 49.3" stroke="#000" stroke-width="1.1" fill="none" shape-rendering="auto"/><text x="718.9" y="60" font-size="13" textLength="15.2" lengthAdjust="spacing">26</text>
<text x="80.3" y="321.5" font-size="13" text-anchor="start" textLength="111" lengthAdjust="spacing">Prec.: log(mm/d)</text>
<text x="73.2" y="594" font-size="13" textLength="27.0" lengthAdjust="spacing">http:</text>
<path d="M102.4 597.3 L110 584.3 M111 597.3 L118.2 584.3" stroke="#000" stroke-width="1.1" fill="none" shape-rendering="auto"/>
<text x="119.4" y="594" font-size="13" textLength="134.4" lengthAdjust="spacing">cmdp.ncc.cma.gov.cn</text>
<text x="3.8" y="615.6" font-size="10.8" textLength="83.4" lengthAdjust="spacingAndGlyphs">GrADS: COLA/IGES</text>

<g shape-rendering="auto">
<circle cx="661.6" cy="586.3" r="19.4" fill="#fbfbfb" stroke="#cfcfcf" stroke-width="0.9"/>
<circle cx="661.6" cy="586.3" r="17.1" fill="none" stroke="#b4b4b4" stroke-width="2" stroke-dasharray="0.9 1.5"/>
<circle cx="661.6" cy="586.3" r="14.8" fill="#fff" stroke="#e6e6e6" stroke-width="0.5"/>
<path d="M661.6 583.2 C657 582.2 655.4 577.2 658.8 574.8 C662 572.6 667 573.6 668 576.6 C671.5 575.4 675 578.4 674.4 582 C674 584 672.6 585 671 585.2" fill="none" stroke="#f01820" stroke-width="2.5" stroke-linecap="round" stroke-linejoin="round"/>
<path d="M664.8 579.7 C669 580.4 670.6 585 667.2 587.8 C664 590.4 658.6 589.6 656.6 586.2 C652.6 586.8 649.4 583.4 650.5 580.4 C651.1 578.9 652.2 578.3 653.4 578.3" fill="none" stroke="#1030f0" stroke-width="2.5" stroke-linecap="round" stroke-linejoin="round"/>
<text x="662.7" y="597.4" text-anchor="middle" font-family="'Liberation Serif', serif" font-weight="bold" font-size="8.8" fill="#17222e" stroke="#17222e" stroke-width="0.25" textLength="18.6" lengthAdjust="spacingAndGlyphs">BCC</text>
<g fill="#2626f2"><ellipse cx="712.6" cy="601.6" rx="2.7" ry="1.15" transform="rotate(-36 712.6 601.6)"/><ellipse cx="712.0" cy="599.6" rx="2.7" ry="1.15" transform="rotate(20 712.0 599.6)"/><ellipse cx="717.3" cy="600.6" rx="2.7" ry="1.15" transform="rotate(-44 717.3 600.6)"/><ellipse cx="716.1" cy="598.7" rx="2.7" ry="1.15" transform="rotate(12 716.1 598.7)"/><ellipse cx="721.6" cy="599.0" rx="2.7" ry="1.15" transform="rotate(-54 721.6 599.0)"/><ellipse cx="719.8" cy="597.3" rx="2.7" ry="1.15" transform="rotate(2 719.8 597.3)"/><ellipse cx="725.3" cy="596.7" rx="2.7" ry="1.15" transform="rotate(-65 725.3 596.7)"/><ellipse cx="723.0" cy="595.4" rx="2.7" ry="1.15" transform="rotate(-9 723.0 595.4)"/><ellipse cx="728.1" cy="594.1" rx="2.7" ry="1.15" transform="rotate(-78 728.1 594.1)"/><ellipse cx="725.5" cy="593.1" rx="2.7" ry="1.15" transform="rotate(-22 725.5 593.1)"/><ellipse cx="730.0" cy="591.0" rx="2.7" ry="1.15" transform="rotate(-94 730.0 591.0)"/><ellipse cx="727.1" cy="590.5" rx="2.7" ry="1.15" transform="rotate(-38 727.1 590.5)"/><ellipse cx="730.9" cy="587.8" rx="2.7" ry="1.15" transform="rotate(-112 730.9 587.8)"/><ellipse cx="727.9" cy="587.7" rx="2.7" ry="1.15" transform="rotate(-56 727.9 587.7)"/><ellipse cx="730.6" cy="584.6" rx="2.7" ry="1.15" transform="rotate(-131 730.6 584.6)"/><ellipse cx="727.7" cy="584.9" rx="2.7" ry="1.15" transform="rotate(-75 727.7 584.9)"/><ellipse cx="729.3" cy="581.5" rx="2.7" ry="1.15" transform="rotate(-149 729.3 581.5)"/><ellipse cx="726.5" cy="582.2" rx="2.7" ry="1.15" transform="rotate(-93 726.5 582.2)"/><ellipse cx="727.0" cy="578.6" rx="2.7" ry="1.15" transform="rotate(-164 727.0 578.6)"/><ellipse cx="724.5" cy="579.7" rx="2.7" ry="1.15" transform="rotate(-108 724.5 579.7)"/><ellipse cx="723.8" cy="576.1" rx="2.7" ry="1.15" transform="rotate(-176 723.8 576.1)"/><ellipse cx="721.8" cy="577.6" rx="2.7" ry="1.15" transform="rotate(-120 721.8 577.6)"/><ellipse cx="703.0" cy="601.6" rx="2.7" ry="1.15" transform="rotate(-144 703.0 601.6)"/><ellipse cx="703.6" cy="599.6" rx="2.7" ry="1.15" transform="rotate(-200 703.6 599.6)"/><ellipse cx="698.3" cy="600.6" rx="2.7" ry="1.15" transform="rotate(-136 698.3 600.6)"/><ellipse cx="699.5" cy="598.7" rx="2.7" ry="1.15" transform="rotate(-192 699.5 598.7)"/><ellipse cx="694.0" cy="599.0" rx="2.7" ry="1.15" transform="rotate(-126 694.0 599.0)"/><ellipse cx="695.8" cy="597.3" rx="2.7" ry="1.15" transform="rotate(-182 695.8 597.3)"/><ellipse cx="690.3" cy="596.7" rx="2.7" ry="1.15" transform="rotate(-115 690.3 596.7)"/><ellipse cx="692.6" cy="595.4" rx="2.7" ry="1.15" transform="rotate(-171 692.6 595.4)"/><ellipse cx="687.5" cy="594.1" rx="2.7" ry="1.15" transform="rotate(-102 687.5 594.1)"/><ellipse cx="690.1" cy="593.1" rx="2.7" ry="1.15" transform="rotate(-158 690.1 593.1)"/><ellipse cx="685.6" cy="591.0" rx="2.7" ry="1.15" transform="rotate(-86 685.6 591.0)"/><ellipse cx="688.5" cy="590.5" rx="2.7" ry="1.15" transform="rotate(-142 688.5 590.5)"/><ellipse cx="684.7" cy="587.8" rx="2.7" ry="1.15" transform="rotate(-68 684.7 587.8)"/><ellipse cx="687.7" cy="587.7" rx="2.7" ry="1.15" transform="rotate(-124 687.7 587.7)"/><ellipse cx="685.0" cy="584.6" rx="2.7" ry="1.15" transform="rotate(-49 685.0 584.6)"/><ellipse cx="687.9" cy="584.9" rx="2.7" ry="1.15" transform="rotate(-105 687.9 584.9)"/><ellipse cx="686.3" cy="581.5" rx="2.7" ry="1.15" transform="rotate(-31 686.3 581.5)"/><ellipse cx="689.1" cy="582.2" rx="2.7" ry="1.15" transform="rotate(-87 689.1 582.2)"/><ellipse cx="688.6" cy="578.6" rx="2.7" ry="1.15" transform="rotate(-16 688.6 578.6)"/><ellipse cx="691.1" cy="579.7" rx="2.7" ry="1.15" transform="rotate(-72 691.1 579.7)"/><ellipse cx="691.8" cy="576.1" rx="2.7" ry="1.15" transform="rotate(-4 691.8 576.1)"/><ellipse cx="693.8" cy="577.6" rx="2.7" ry="1.15" transform="rotate(-60 693.8 577.6)"/></g>
<g fill="none" stroke="#2626f2">
<ellipse cx="707.8" cy="586.9" rx="21.6" ry="14.0" stroke-width="0.8" stroke-dasharray="52 27 200"/>
<ellipse cx="708.6" cy="585.3" rx="19.2" ry="10.9" stroke-width="1.3"/>
<ellipse cx="708.6" cy="585.3" rx="11" ry="10.9" stroke-width="0.6"/>
<ellipse cx="708.6" cy="585.3" rx="4.2" ry="10.9" stroke-width="0.6"/>
<path d="M689.6 585.3 H727.6 M691.6 580.6 H725.6 M691.6 590 H725.6 M696 577 H721.2 M696 593.6 H721.2" stroke-width="0.6"/>
<path d="M701.4 597.6 H718.4 M699.6 599.6 H716.4 M703 601.4 H713" stroke-width="1.5"/>
</g>
<path d="M693.8 584.2 l2.2 -2.8 3.6 -1.2 2.8 1 1.6 -1.4 1.2 2.2 -1 3.4 -1.8 3.2 -2.6 2 -2.2 -1.2 -1.6 -2.8 -2 -0.8z" fill="#5a5af6" opacity="0.75"/>
<text x="716.2" y="590.7" text-anchor="middle" font-weight="bold" font-style="italic" font-size="14" fill="#2626f2" stroke="#fff" stroke-width="1.6" paint-order="stroke" textLength="18.8" lengthAdjust="spacingAndGlyphs">NCC</text>
<text x="716.2" y="590.7" text-anchor="middle" font-weight="bold" font-style="italic" font-size="14" fill="#2626f2" stroke="#2626f2" stroke-width="0.35" textLength="18.8" lengthAdjust="spacingAndGlyphs">NCC</text>
<g fill="none" stroke="#2626f2" stroke-width="0.8"><rect x="700.4" y="570.4" width="3.6" height="2"/><path d="M702.2 569.2 V574.2"/><rect x="712.8" y="569.6" width="4.2" height="4"/><path d="M713.8 571 H716 M713.8 572.4 H716 M714.9 571 V572.4"/></g>
</g>

</svg>
</body></html>
